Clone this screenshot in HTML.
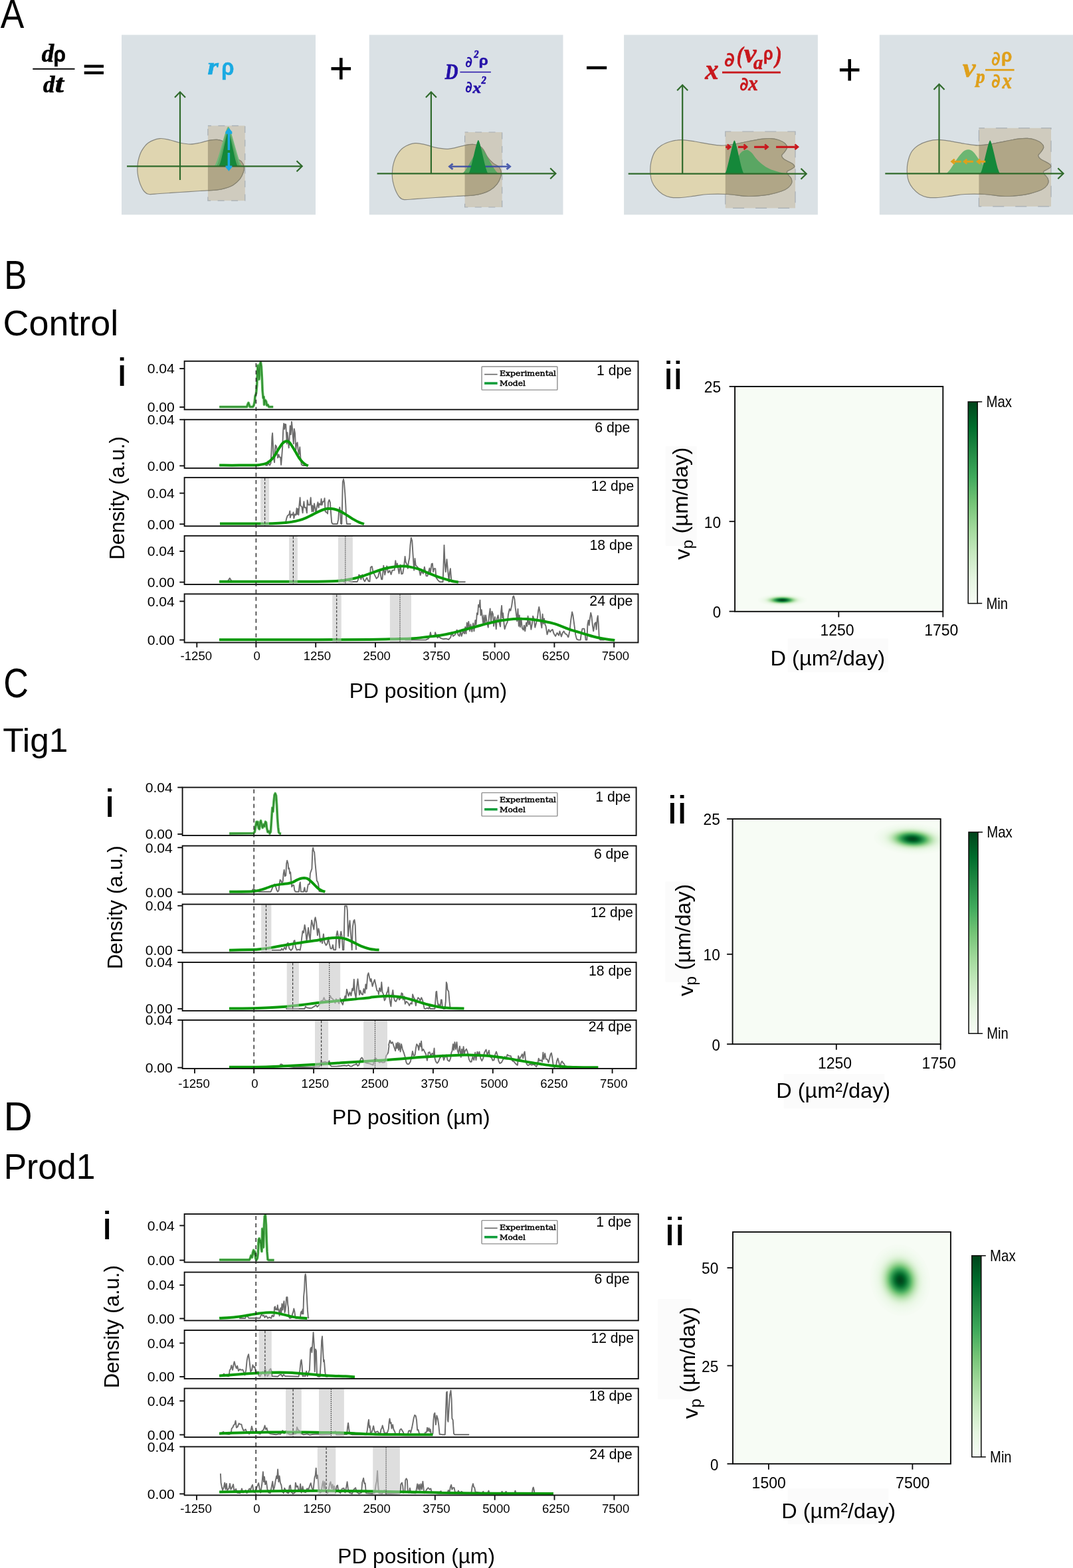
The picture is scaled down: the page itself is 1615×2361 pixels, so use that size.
<!DOCTYPE html>
<html lang="en"><head><meta charset="utf-8"><title>Figure</title>
<style>
html,body{margin:0;padding:0;background:#fff}
body{width:1615px;height:2361px;overflow:hidden}
svg{display:block}
svg{font-family:"Liberation Sans","DejaVu Sans",sans-serif;fill:#000}
.lg{font-family:"DejaVu Serif","Liberation Serif",serif}
</style></head><body>
<svg width="1615" height="2361" viewBox="0 0 1615 2361">
<text transform="translate(0.73 42.49) scale(0.8660 1)" font-family="'Liberation Sans','DejaVu Sans',sans-serif" font-weight="normal" font-style="normal" font-size="61.58" style="fill:#000">A</text>
<text transform="translate(62.65 93.03) scale(0.9926 1)" font-family="'Liberation Serif','DejaVu Serif',serif" font-weight="bold" font-style="italic" font-size="37.07" style="fill:#000" stroke="#000" stroke-width="0.7">d</text>
<text transform="translate(80.56 93.13) scale(0.9153 1)" font-family="'Liberation Sans','DejaVu Sans',sans-serif" font-weight="bold" font-style="normal" font-size="32.70" style="fill:#000" stroke="#000" stroke-width="0.5">ρ</text>
<text transform="translate(65.03 139.08) scale(0.9661 1)" font-family="'Liberation Serif','DejaVu Serif',serif" font-weight="bold" font-style="italic" font-size="36.13" style="fill:#000" stroke="#000" stroke-width="0.7">d</text>
<text transform="translate(82.83 139.07) scale(1.2778 1)" font-family="'Liberation Serif','DejaVu Serif',serif" font-weight="bold" font-style="italic" font-size="36.92" style="fill:#000" stroke="#000" stroke-width="0.7">t</text>
<rect x="49.3" y="102.85" width="63.2" height="1.9" fill="#000"/>
<rect x="126.7" y="97.6" width="29.3" height="4.3" fill="#000"/><rect x="126.7" y="107.5" width="29.3" height="4.3" fill="#000"/>
<rect x="498.5" y="101.1" width="29.6" height="4.6" fill="#000"/>
<rect x="511" y="87.2" width="4.6" height="32.4" fill="#000"/>
<rect x="883" y="99.8" width="30.2" height="4.5" fill="#000"/>
<rect x="1263.9" y="103" width="29.6" height="4.6" fill="#000"/>
<rect x="1276.4" y="89.1" width="4.6" height="32.4" fill="#000"/>
<rect x="183" y="52.5" width="292" height="270.8" fill="#dae1e5"/>
<clipPath id="c1"><rect x="312.9" y="189.3" width="55.9" height="112.9"/></clipPath>
<rect x="312.9" y="189.3" width="55.9" height="112.9" fill="#cfcbbe" stroke="#a7aeb4" stroke-width="1.2" stroke-dasharray="10 10.5" stroke-dashoffset="5"/>
<path d="M206.8 255.3C206.9 251.3 207.1 245.9 208.2 241.2C209.3 236.5 210.7 231.5 213.2 227.1C215.8 222.8 218.8 218.1 223.3 215C227.8 212 234.9 209.3 240.4 208.6C245.9 207.9 251.5 209.9 256.5 211C261.5 212.1 265.6 214 270.6 215C275.6 216 281.7 217.1 286.7 217.1C291.7 217.1 296.1 216 300.8 215C305.5 214.1 310.5 212.2 314.9 211.4C319.2 210.6 323.6 210.2 326.9 210.4C330.3 210.6 332.7 211.3 335 212.6C337.3 213.9 339 215.3 341 218.1C343 220.8 344.7 225.8 347.1 229.1C349.4 232.5 352.4 235.8 355.1 238.2C357.8 240.5 361.2 241 363.2 243.2C365.2 245.4 366.7 248.6 367.2 251.3C367.7 253.9 367.2 256.3 366.2 259.3C365.2 262.3 363.7 266.2 361.2 269.4C358.6 272.5 354.8 276.1 351.1 278.4C347.4 280.8 343 282.2 339 283.4C335 284.7 333.3 285.2 326.9 285.9C320.6 286.5 310.2 286.9 300.8 287.5C291.4 288.1 280.7 288.8 270.6 289.5C260.5 290.2 248.1 291 240.4 291.5C232.7 292 228.2 293 224.3 292.5C220.5 292 219.4 291 217.3 288.5C215.1 286 212.8 281.3 211.2 277.4C209.7 273.6 208.5 269 207.8 265.3C207.1 261.6 206.7 259.3 206.8 255.3Z" fill="#dfd5b0" stroke="#87877f" stroke-width="1.2"/>
<path d="M206.8 255.3C206.9 251.3 207.1 245.9 208.2 241.2C209.3 236.5 210.7 231.5 213.2 227.1C215.8 222.8 218.8 218.1 223.3 215C227.8 212 234.9 209.3 240.4 208.6C245.9 207.9 251.5 209.9 256.5 211C261.5 212.1 265.6 214 270.6 215C275.6 216 281.7 217.1 286.7 217.1C291.7 217.1 296.1 216 300.8 215C305.5 214.1 310.5 212.2 314.9 211.4C319.2 210.6 323.6 210.2 326.9 210.4C330.3 210.6 332.7 211.3 335 212.6C337.3 213.9 339 215.3 341 218.1C343 220.8 344.7 225.8 347.1 229.1C349.4 232.5 352.4 235.8 355.1 238.2C357.8 240.5 361.2 241 363.2 243.2C365.2 245.4 366.7 248.6 367.2 251.3C367.7 253.9 367.2 256.3 366.2 259.3C365.2 262.3 363.7 266.2 361.2 269.4C358.6 272.5 354.8 276.1 351.1 278.4C347.4 280.8 343 282.2 339 283.4C335 284.7 333.3 285.2 326.9 285.9C320.6 286.5 310.2 286.9 300.8 287.5C291.4 288.1 280.7 288.8 270.6 289.5C260.5 290.2 248.1 291 240.4 291.5C232.7 292 228.2 293 224.3 292.5C220.5 292 219.4 291 217.3 288.5C215.1 286 212.8 281.3 211.2 277.4C209.7 273.6 208.5 269 207.8 265.3C207.1 261.6 206.7 259.3 206.8 255.3Z" fill="#b0a687" stroke="#878370" stroke-width="1.2" clip-path="url(#c1)"/>
<path d="M322 250.3C327.4 250.3 339.3 190.8 343.6 190.8C347.9 190.8 359.8 250.3 365.2 250.3Z" fill="#6fb878"/>
<path d="M325.1 250.3C329.7 250.3 339.9 194.5 343.6 194.5C347.3 194.5 357.5 250.3 362.1 250.3Z" fill="#5aa663"/>
<path d="M329 250.3C332.7 250.3 340.7 198.3 343.6 198.3C346.5 198.3 354.6 250.3 358.2 250.3Z" fill="#15883a"/>
<g fill="none" stroke="#2f6a2b" stroke-width="2.2" stroke-linecap="butt" stroke-linejoin="miter">
<path d="M271 271V138.6"/>
<path d="M263 146.8L271 138.6L279 146.8"/>
<path d="M191 250.3H454.7"/>
<path d="M446.5 242.3L454.7 250.3L446.5 258.3"/>
</g>
<g fill="#1aaae2" stroke="none"><rect x="342.65" y="199" width="3.5" height="27"/><rect x="342.65" y="230" width="3.5" height="22"/><path d="M344.4 192.6L349.3 198.6V201.8H339.5V198.6Z"/><path d="M344.4 257.7L349.3 251.7V249.6H339.5V251.7Z"/></g>
<text transform="translate(312.42 112.43) scale(1.1501 1)" font-family="'Liberation Serif','DejaVu Serif',serif" font-weight="bold" font-style="italic" font-size="36.39" style="fill:#1aaae2" stroke="#1aaae2" stroke-width="0.7">r</text>
<text transform="translate(333.13 113.16) scale(0.8876 1)" font-family="'Liberation Sans','DejaVu Sans',sans-serif" font-weight="bold" font-style="normal" font-size="34.88" style="fill:#1aaae2" stroke="#1aaae2" stroke-width="0.5">ρ</text>
<rect x="555.7" y="52.5" width="291.8" height="270.8" fill="#dae1e5"/>
<clipPath id="c2"><rect x="699.6" y="199" width="56.1" height="113"/></clipPath>
<rect x="699.6" y="199" width="56.1" height="113" fill="#cfcbbe" stroke="#a7aeb4" stroke-width="1.2" stroke-dasharray="10 10.5" stroke-dashoffset="5"/>
<path d="M590.3 262.9C590.4 258.9 590.6 253.4 591.7 248.7C592.8 243.9 594.3 238.8 596.9 234.4C599.5 230 602.5 225.3 607.2 222.2C611.8 219.1 619 216.4 624.7 215.7C630.3 215 636 217.1 641.1 218.1C646.3 219.2 650.4 221.2 655.5 222.2C660.7 223.2 666.8 224.3 672 224.3C677.1 224.3 681.6 223.2 686.4 222.2C691.2 221.3 696.3 219.3 700.8 218.6C705.3 217.8 709.7 217.3 713.1 217.5C716.6 217.7 719 218.5 721.4 219.8C723.8 221.1 725.5 222.5 727.5 225.3C729.6 228.1 731.3 233.1 733.7 236.5C736.1 239.9 739.2 243.3 742 245.6C744.7 248 748.1 248.5 750.2 250.7C752.2 252.9 753.8 256.1 754.3 258.9C754.8 261.6 754.3 264 753.3 267C752.2 270.1 750.7 274 748.1 277.2C745.6 280.4 741.6 284 737.8 286.3C734.1 288.7 729.6 290.2 725.5 291.4C721.4 292.7 719.7 293.2 713.1 293.9C706.6 294.6 696 294.9 686.4 295.5C676.8 296.1 665.8 296.9 655.5 297.5C645.2 298.2 632.6 299.1 624.7 299.6C616.8 300.1 612.1 301.1 608.2 300.6C604.3 300.1 603.2 299.1 601 296.5C598.8 294 596.4 289.2 594.8 285.3C593.2 281.4 592.1 276.8 591.3 273.1C590.6 269.4 590.2 267 590.3 262.9Z" fill="#dfd5b0" stroke="#87877f" stroke-width="1.2"/>
<path d="M590.3 262.9C590.4 258.9 590.6 253.4 591.7 248.7C592.8 243.9 594.3 238.8 596.9 234.4C599.5 230 602.5 225.3 607.2 222.2C611.8 219.1 619 216.4 624.7 215.7C630.3 215 636 217.1 641.1 218.1C646.3 219.2 650.4 221.2 655.5 222.2C660.7 223.2 666.8 224.3 672 224.3C677.1 224.3 681.6 223.2 686.4 222.2C691.2 221.3 696.3 219.3 700.8 218.6C705.3 217.8 709.7 217.3 713.1 217.5C716.6 217.7 719 218.5 721.4 219.8C723.8 221.1 725.5 222.5 727.5 225.3C729.6 228.1 731.3 233.1 733.7 236.5C736.1 239.9 739.2 243.3 742 245.6C744.7 248 748.1 248.5 750.2 250.7C752.2 252.9 753.8 256.1 754.3 258.9C754.8 261.6 754.3 264 753.3 267C752.2 270.1 750.7 274 748.1 277.2C745.6 280.4 741.6 284 737.8 286.3C734.1 288.7 729.6 290.2 725.5 291.4C721.4 292.7 719.7 293.2 713.1 293.9C706.6 294.6 696 294.9 686.4 295.5C676.8 296.1 665.8 296.9 655.5 297.5C645.2 298.2 632.6 299.1 624.7 299.6C616.8 300.1 612.1 301.1 608.2 300.6C604.3 300.1 603.2 299.1 601 296.5C598.8 294 596.4 289.2 594.8 285.3C593.2 281.4 592.1 276.8 591.3 273.1C590.6 269.4 590.2 267 590.3 262.9Z" fill="#b0a687" stroke="#878370" stroke-width="1.2" clip-path="url(#c2)"/>
<path d="M694.7 261.3C701.8 261.3 717.3 222 723 222C728.7 222 744.2 261.3 751.3 261.3Z" fill="#5aa663"/>
<g fill="#3448a6" stroke="none" opacity="0.85">
<rect x="677.9" y="249.5" width="88.2" height="2.5"/>
<path d="M769.8 250.8L763.5 245.6L761.5 247.8L765.7 250.8L761.5 253.7L763.5 255.9Z"/>
<path d="M674.3 250.8L680.6 245.6L682.5 247.8L678.4 250.8L682.5 253.7L680.6 255.9Z"/>
</g>
<path d="M704.8 261.3C708.6 261.3 716.9 211.1 719.9 211.1C722.9 211.1 731.2 261.3 735 261.3Z" fill="#15883a"/>
<g fill="none" stroke="#2f6a2b" stroke-width="2.2" stroke-linecap="butt" stroke-linejoin="miter">
<path d="M648.9 261.3V138.6"/>
<path d="M640.9 146.8L648.9 138.6L656.9 146.8"/>
<path d="M567.6 261.3H836.4"/>
<path d="M828.2 253.3L836.4 261.3L828.2 269.3"/>
</g>
<text transform="translate(669.85 119.25) scale(0.7936 1)" font-family="'Liberation Serif','DejaVu Serif',serif" font-weight="bold" font-style="italic" font-size="34.57" style="fill:#2410a8" stroke="#2410a8" stroke-width="0.7">D</text>
<text transform="translate(700.27 101.17) scale(0.8622 1)" font-family="'DejaVu Sans','Liberation Sans',sans-serif" font-weight="bold" font-style="italic" font-size="22.56" style="fill:#2410a8">∂</text>
<text transform="translate(713.26 87.36) scale(0.8505 1)" font-family="'Liberation Serif','DejaVu Serif',serif" font-weight="bold" font-style="italic" font-size="17.15" style="fill:#2410a8" stroke="#2410a8" stroke-width="0.7">2</text>
<text transform="translate(720.71 98.36) scale(1.1632 1)" font-family="'Liberation Sans','DejaVu Sans',sans-serif" font-weight="bold" font-style="normal" font-size="19.50" style="fill:#2410a8" stroke="#2410a8" stroke-width="0.5">ρ</text>
<text transform="translate(700.27 139.36) scale(0.8130 1)" font-family="'DejaVu Sans','Liberation Sans',sans-serif" font-weight="bold" font-style="italic" font-size="23.93" style="fill:#2410a8">∂</text>
<text transform="translate(711.48 139.72) scale(1.1209 1)" font-family="'Liberation Serif','DejaVu Serif',serif" font-weight="bold" font-style="italic" font-size="22.56" style="fill:#2410a8" stroke="#2410a8" stroke-width="0.7">x</text>
<text transform="translate(724.58 125.57) scale(0.8875 1)" font-family="'Liberation Serif','DejaVu Serif',serif" font-weight="bold" font-style="italic" font-size="16.44" style="fill:#2410a8" stroke="#2410a8" stroke-width="0.7">2</text>
<rect x="692.4" y="107.8" width="46.5" height="1.5" fill="#2410a8"/>
<rect x="939.1" y="52.5" width="291.8" height="270.8" fill="#dae1e5"/>
<clipPath id="c3"><rect x="1091.8" y="198" width="105.2" height="115.4"/></clipPath>
<rect x="1091.8" y="198" width="105.2" height="115.4" fill="#cfcbbe" stroke="#a7aeb4" stroke-width="1.2" stroke-dasharray="17 17" stroke-dashoffset="8.5"/>
<path d="M978.9 261.3C978.6 256.6 978.6 250.6 979.7 245.2C980.8 239.8 982.7 233.5 985.3 229.1C988 224.8 991.4 221.7 995.4 219.1C999.4 216.4 1004.5 214.4 1009.5 213C1014.5 211.6 1019.5 210.6 1025.6 210.6C1031.6 210.6 1039 212 1045.7 213C1052.4 214 1059.1 215.6 1065.8 216.6C1072.5 217.7 1079.2 219 1085.9 219.1C1092.6 219.1 1099.4 218.1 1106.1 217C1112.8 216 1119.5 214.3 1126.2 213C1132.9 211.8 1140.6 210.1 1146.3 209.4C1152 208.7 1156 208.3 1160.4 208.6C1164.7 208.9 1168.9 209.8 1172.5 211C1176 212.3 1179.5 214.2 1181.5 216C1183.5 217.9 1184.7 219.9 1184.5 222.1C1184.4 224.3 1181.9 227.1 1180.5 229.1C1179.2 231.1 1176.7 232.5 1176.5 234.1C1176.3 235.8 1177.8 237.7 1179.5 239.2C1181.2 240.7 1184.2 241.9 1186.5 243.2C1188.9 244.5 1192.1 245.9 1193.6 247.2C1195.1 248.6 1196.1 250 1195.6 251.2C1195.1 252.5 1192.4 253.7 1190.6 254.9C1188.7 256 1185.4 257 1184.5 258.3C1183.7 259.5 1184.5 260.6 1185.5 262.3C1186.5 264 1189.6 266.2 1190.6 268.3C1191.6 270.5 1192.2 273 1191.6 275.4C1190.9 277.7 1189.1 280.3 1186.5 282.4C1184 284.5 1181.5 286.1 1176.5 287.8C1171.5 289.6 1164.7 291.8 1156.4 293.1C1148 294.3 1136.2 295.6 1126.2 295.5C1116.1 295.4 1106.1 293 1096 292.5C1085.9 292 1074.2 292 1065.8 292.5C1057.4 292.9 1052.4 294.2 1045.7 295.1C1039 295.9 1031.6 297.2 1025.6 297.5C1019.5 297.8 1014.2 297.9 1009.5 297.1C1004.8 296.3 1001.1 294.8 997.4 292.5C993.7 290.2 990 286.6 987.4 283.4C984.7 280.2 982.7 277.1 981.3 273.4C979.9 269.7 979.2 266 978.9 261.3Z" fill="#dfd5b0" stroke="#87877f" stroke-width="1.2"/>
<path d="M978.9 261.3C978.6 256.6 978.6 250.6 979.7 245.2C980.8 239.8 982.7 233.5 985.3 229.1C988 224.8 991.4 221.7 995.4 219.1C999.4 216.4 1004.5 214.4 1009.5 213C1014.5 211.6 1019.5 210.6 1025.6 210.6C1031.6 210.6 1039 212 1045.7 213C1052.4 214 1059.1 215.6 1065.8 216.6C1072.5 217.7 1079.2 219 1085.9 219.1C1092.6 219.1 1099.4 218.1 1106.1 217C1112.8 216 1119.5 214.3 1126.2 213C1132.9 211.8 1140.6 210.1 1146.3 209.4C1152 208.7 1156 208.3 1160.4 208.6C1164.7 208.9 1168.9 209.8 1172.5 211C1176 212.3 1179.5 214.2 1181.5 216C1183.5 217.9 1184.7 219.9 1184.5 222.1C1184.4 224.3 1181.9 227.1 1180.5 229.1C1179.2 231.1 1176.7 232.5 1176.5 234.1C1176.3 235.8 1177.8 237.7 1179.5 239.2C1181.2 240.7 1184.2 241.9 1186.5 243.2C1188.9 244.5 1192.1 245.9 1193.6 247.2C1195.1 248.6 1196.1 250 1195.6 251.2C1195.1 252.5 1192.4 253.7 1190.6 254.9C1188.7 256 1185.4 257 1184.5 258.3C1183.7 259.5 1184.5 260.6 1185.5 262.3C1186.5 264 1189.6 266.2 1190.6 268.3C1191.6 270.5 1192.2 273 1191.6 275.4C1190.9 277.7 1189.1 280.3 1186.5 282.4C1184 284.5 1181.5 286.1 1176.5 287.8C1171.5 289.6 1164.7 291.8 1156.4 293.1C1148 294.3 1136.2 295.6 1126.2 295.5C1116.1 295.4 1106.1 293 1096 292.5C1085.9 292 1074.2 292 1065.8 292.5C1057.4 292.9 1052.4 294.2 1045.7 295.1C1039 295.9 1031.6 297.2 1025.6 297.5C1019.5 297.8 1014.2 297.9 1009.5 297.1C1004.8 296.3 1001.1 294.8 997.4 292.5C993.7 290.2 990 286.6 987.4 283.4C984.7 280.2 982.7 277.1 981.3 273.4C979.9 269.7 979.2 266 978.9 261.3Z" fill="#b0a687" stroke="#878370" stroke-width="1.2" clip-path="url(#c3)"/>
<path d="M1106 261.7C1106.5 259.1 1107.9 250.7 1109 246C1110.1 241.3 1111 236.9 1112.5 233.8C1114 230.7 1116 228.9 1118 227.6C1120 226.3 1122.5 225.4 1124.7 225.8C1126.9 226.2 1129.1 227.9 1131.3 230C1133.5 232.1 1135.5 235.8 1137.9 238.5C1140.3 241.2 1142.7 243.7 1145.5 246C1148.3 248.3 1151.8 250.8 1154.9 252.6C1158 254.4 1161.2 255.5 1164.3 256.6C1167.4 257.7 1170.2 258.5 1173.8 259.4C1177.4 260.2 1184 261.3 1186 261.7 L1186 261.7L1106 261.7Z" fill="#5aa663"/>
<path d="M1090.7 261.7C1094.4 261.7 1102.5 211.6 1105.4 211.6C1108.3 211.6 1116.4 261.7 1120.1 261.7Z" fill="#15883a"/>
<g fill="none" stroke="#2f6a2b" stroke-width="2.2" stroke-linecap="butt" stroke-linejoin="miter">
<path d="M1027.2 261.7V128.1"/>
<path d="M1019.2 136.3L1027.2 128.1L1035.2 136.3"/>
<path d="M945.7 261.7H1213.7"/>
<path d="M1205.5 253.7L1213.7 261.7L1205.5 269.7"/>
</g>
<g fill="#c8181d" stroke="none">
<rect x="1092.2" y="219.8" width="5.8" height="3.1"/>
<path d="M1101.3 221.3L1095.6 216.6L1093.8 218.6L1097.6 221.3L1093.8 224L1095.6 226Z"/>
</g>
<g fill="#c8181d" stroke="none">
<rect x="1111" y="219.8" width="11.8" height="3.1"/>
<path d="M1126.1 221.3L1120.4 216.6L1118.6 218.6L1122.4 221.3L1118.6 224L1120.4 226Z"/>
</g>
<g fill="#c8181d" stroke="none">
<rect x="1135.1" y="219.8" width="19.3" height="3.1"/>
<path d="M1157.7 221.3L1152 216.6L1150.2 218.6L1154 221.3L1150.2 224L1152 226Z"/>
</g>
<g fill="#c8181d" stroke="none">
<rect x="1168.1" y="219.8" width="31.6" height="3.1"/>
<path d="M1203 221.3L1197.3 216.6L1195.5 218.6L1199.3 221.3L1195.5 224L1197.3 226Z"/>
</g>
<text transform="translate(1061.16 118.96) scale(0.9264 1)" font-family="'Liberation Serif','DejaVu Serif',serif" font-weight="bold" font-style="italic" font-size="44.09" style="fill:#c8181d" stroke="#c8181d" stroke-width="0.7">x</text>
<text transform="translate(1090.07 99.64) scale(0.9700 1)" font-family="'DejaVu Sans','Liberation Sans',sans-serif" font-weight="bold" font-style="italic" font-size="30.08" style="fill:#c8181d">∂</text>
<text transform="translate(1108.83 94.86) scale(0.8056 1)" font-family="'Liberation Serif','DejaVu Serif',serif" font-weight="bold" font-style="italic" font-size="36.16" style="fill:#c8181d" stroke="#c8181d" stroke-width="0.7">(</text>
<text transform="translate(1119.76 93.54) scale(1.0059 1)" font-family="'Liberation Serif','DejaVu Serif',serif" font-weight="bold" font-style="italic" font-size="42.15" style="fill:#c8181d" stroke="#c8181d" stroke-width="0.7">v</text>
<text transform="translate(1134.06 103.56) scale(0.9324 1)" font-family="'Liberation Serif','DejaVu Serif',serif" font-weight="bold" font-style="italic" font-size="30.46" style="fill:#c8181d" stroke="#c8181d" stroke-width="0.7">a</text>
<text transform="translate(1148.96 89.70) scale(0.8721 1)" font-family="'Liberation Sans','DejaVu Sans',sans-serif" font-weight="bold" font-style="normal" font-size="27.04" style="fill:#c8181d" stroke="#c8181d" stroke-width="0.5">ρ</text>
<text transform="translate(1166.78 94.86) scale(0.8318 1)" font-family="'Liberation Serif','DejaVu Serif',serif" font-weight="bold" font-style="italic" font-size="36.16" style="fill:#c8181d" stroke="#c8181d" stroke-width="0.7">)</text>
<text transform="translate(1113.33 135.52) scale(0.8675 1)" font-family="'DejaVu Sans','Liberation Sans',sans-serif" font-weight="bold" font-style="italic" font-size="28.03" style="fill:#c8181d">∂</text>
<text transform="translate(1126.14 135.94) scale(0.9179 1)" font-family="'Liberation Serif','DejaVu Serif',serif" font-weight="bold" font-style="italic" font-size="31.79" style="fill:#c8181d" stroke="#c8181d" stroke-width="0.7">x</text>
<rect x="1087" y="107.6" width="87.9" height="2.9" fill="#c8181d"/>
<rect x="1323.8" y="52.5" width="291.2" height="270.8" fill="#dae1e5"/>
<clipPath id="c4"><rect x="1473.4" y="192.8" width="108.6" height="118.1"/></clipPath>
<rect x="1473.4" y="192.8" width="108.6" height="118.1" fill="#cfcbbe" stroke="#a7aeb4" stroke-width="1.2" stroke-dasharray="17 17" stroke-dashoffset="8.5"/>
<path d="M1365.4 261.2C1365.1 256.5 1365.1 250.5 1366.2 245.1C1367.3 239.7 1369.2 233.3 1371.8 229C1374.4 224.6 1377.9 221.6 1381.9 218.9C1385.9 216.2 1390.9 214.2 1395.9 212.8C1400.9 211.4 1406 210.4 1412 210.4C1418 210.4 1425.4 211.8 1432.1 212.8C1438.8 213.8 1445.5 215.5 1452.2 216.5C1458.9 217.5 1465.6 218.8 1472.2 218.9C1478.9 218.9 1485.6 217.9 1492.3 216.9C1499 215.9 1505.7 214.1 1512.4 212.8C1519.1 211.6 1526.8 209.9 1532.5 209.2C1538.2 208.5 1542.2 208.1 1546.6 208.4C1550.9 208.7 1555.1 209.6 1558.6 210.8C1562.1 212.1 1565.6 214 1567.6 215.9C1569.6 217.7 1570.8 219.7 1570.7 221.9C1570.5 224.1 1568 226.9 1566.6 229C1565.3 231 1562.8 232.3 1562.6 234C1562.5 235.7 1564 237.5 1565.6 239C1567.3 240.6 1570.3 241.7 1572.7 243.1C1575 244.4 1578.2 245.8 1579.7 247.1C1581.2 248.4 1582.2 249.9 1581.7 251.1C1581.2 252.4 1578.5 253.6 1576.7 254.8C1574.8 255.9 1571.5 256.9 1570.7 258.2C1569.8 259.4 1570.7 260.5 1571.7 262.2C1572.7 263.9 1575.7 266.1 1576.7 268.3C1577.7 270.5 1578.4 273 1577.7 275.3C1577 277.7 1575.2 280.3 1572.7 282.4C1570.2 284.5 1567.6 286 1562.6 287.8C1557.6 289.6 1550.9 291.8 1542.5 293.1C1534.2 294.3 1522.5 295.6 1512.4 295.5C1502.4 295.4 1492.3 293 1482.3 292.5C1472.2 292 1460.5 292 1452.2 292.5C1443.8 292.9 1438.8 294.2 1432.1 295.1C1425.4 295.9 1418 297.2 1412 297.5C1406 297.8 1400.6 297.9 1395.9 297.1C1391.2 296.3 1387.6 294.7 1383.9 292.5C1380.2 290.2 1376.5 286.6 1373.8 283.4C1371.2 280.2 1369.2 277 1367.8 273.3C1366.4 269.6 1365.7 265.9 1365.4 261.2Z" fill="#dfd5b0" stroke="#87877f" stroke-width="1.2"/>
<path d="M1365.4 261.2C1365.1 256.5 1365.1 250.5 1366.2 245.1C1367.3 239.7 1369.2 233.3 1371.8 229C1374.4 224.6 1377.9 221.6 1381.9 218.9C1385.9 216.2 1390.9 214.2 1395.9 212.8C1400.9 211.4 1406 210.4 1412 210.4C1418 210.4 1425.4 211.8 1432.1 212.8C1438.8 213.8 1445.5 215.5 1452.2 216.5C1458.9 217.5 1465.6 218.8 1472.2 218.9C1478.9 218.9 1485.6 217.9 1492.3 216.9C1499 215.9 1505.7 214.1 1512.4 212.8C1519.1 211.6 1526.8 209.9 1532.5 209.2C1538.2 208.5 1542.2 208.1 1546.6 208.4C1550.9 208.7 1555.1 209.6 1558.6 210.8C1562.1 212.1 1565.6 214 1567.6 215.9C1569.6 217.7 1570.8 219.7 1570.7 221.9C1570.5 224.1 1568 226.9 1566.6 229C1565.3 231 1562.8 232.3 1562.6 234C1562.5 235.7 1564 237.5 1565.6 239C1567.3 240.6 1570.3 241.7 1572.7 243.1C1575 244.4 1578.2 245.8 1579.7 247.1C1581.2 248.4 1582.2 249.9 1581.7 251.1C1581.2 252.4 1578.5 253.6 1576.7 254.8C1574.8 255.9 1571.5 256.9 1570.7 258.2C1569.8 259.4 1570.7 260.5 1571.7 262.2C1572.7 263.9 1575.7 266.1 1576.7 268.3C1577.7 270.5 1578.4 273 1577.7 275.3C1577 277.7 1575.2 280.3 1572.7 282.4C1570.2 284.5 1567.6 286 1562.6 287.8C1557.6 289.6 1550.9 291.8 1542.5 293.1C1534.2 294.3 1522.5 295.6 1512.4 295.5C1502.4 295.4 1492.3 293 1482.3 292.5C1472.2 292 1460.5 292 1452.2 292.5C1443.8 292.9 1438.8 294.2 1432.1 295.1C1425.4 295.9 1418 297.2 1412 297.5C1406 297.8 1400.6 297.9 1395.9 297.1C1391.2 296.3 1387.6 294.7 1383.9 292.5C1380.2 290.2 1376.5 286.6 1373.8 283.4C1371.2 280.2 1369.2 277 1367.8 273.3C1366.4 269.6 1365.7 265.9 1365.4 261.2Z" fill="#b0a687" stroke="#878370" stroke-width="1.2" clip-path="url(#c4)"/>
<path d="M1424.5 261.3C1425.6 260.1 1428.4 257.6 1431 254C1433.6 250.4 1437.2 244 1440 240C1442.8 236 1445.8 232.3 1448 230C1450.2 227.7 1451.4 227.1 1453 226.3C1454.6 225.5 1456 225.3 1457.5 225.3C1459 225.3 1460.4 225.6 1462 226.5C1463.6 227.4 1465 228.6 1467 231C1469 233.4 1471.8 238 1474 241C1476.2 244 1477.8 246.7 1480 249C1482.2 251.3 1484.3 253.4 1487 255C1489.7 256.6 1492.8 257.6 1496 258.5C1499.2 259.4 1502.3 259.8 1506 260.3C1509.7 260.8 1516 261.1 1518 261.3 L1518 261.3L1424.5 261.3Z" fill="#6cb672"/>
<path d="M1475 261.3C1478.8 261.3 1487.2 211.4 1490.2 211.4C1493.2 211.4 1501.6 261.3 1505.4 261.3Z" fill="#15883a"/>
<g fill="none" stroke="#2f6a2b" stroke-width="2.2" stroke-linecap="butt" stroke-linejoin="miter">
<path d="M1413.5 261.3V126.8"/>
<path d="M1405.5 135L1413.5 126.8L1421.5 135"/>
<path d="M1332.3 261.3H1600.5"/>
<path d="M1592.3 253.3L1600.5 261.3L1592.3 269.3"/>
</g>
<g fill="#dfa01c" stroke="none">
<rect x="1433.6" y="241.8" width="13.1" height="3"/>
<path d="M1430.4 243.3L1435.9 238.8L1437.7 240.7L1434 243.3L1437.7 245.9L1435.9 247.8Z"/>
</g>
<g fill="#dfa01c" stroke="none">
<rect x="1452.2" y="241.8" width="12.7" height="3"/>
<path d="M1449 243.3L1454.5 238.8L1456.2 240.7L1452.6 243.3L1456.2 245.9L1454.5 247.8Z"/>
</g>
<g fill="#dfa01c" stroke="none">
<rect x="1472.2" y="241.8" width="11" height="3"/>
<path d="M1469 243.3L1474.5 238.8L1476.2 240.7L1472.6 243.3L1476.2 245.9L1474.5 247.8Z"/>
</g>
<text transform="translate(1448.80 116.17) scale(1.0316 1)" font-family="'Liberation Serif','DejaVu Serif',serif" font-weight="bold" font-style="italic" font-size="43.16" style="fill:#dfa01c" stroke="#dfa01c" stroke-width="0.7">v</text>
<text transform="translate(1469.07 124.54) scale(0.9145 1)" font-family="'Liberation Serif','DejaVu Serif',serif" font-weight="bold" font-style="italic" font-size="29.61" style="fill:#dfa01c" stroke="#dfa01c" stroke-width="0.7">p</text>
<text transform="translate(1491.88 97.77) scale(0.8602 1)" font-family="'DejaVu Sans','Liberation Sans',sans-serif" font-weight="bold" font-style="italic" font-size="29.40" style="fill:#dfa01c">∂</text>
<text transform="translate(1507.10 92.53) scale(0.9727 1)" font-family="'Liberation Sans','DejaVu Sans',sans-serif" font-weight="bold" font-style="normal" font-size="27.04" style="fill:#dfa01c" stroke="#dfa01c" stroke-width="0.5">ρ</text>
<text transform="translate(1491.88 132.19) scale(0.8407 1)" font-family="'DejaVu Sans','Liberation Sans',sans-serif" font-weight="bold" font-style="italic" font-size="30.08" style="fill:#dfa01c">∂</text>
<text transform="translate(1508.50 132.64) scale(0.8892 1)" font-family="'Liberation Serif','DejaVu Serif',serif" font-weight="bold" font-style="italic" font-size="32.81" style="fill:#dfa01c" stroke="#dfa01c" stroke-width="0.7">x</text>
<rect x="1483" y="103.9" width="43.6" height="2.8" fill="#dfa01c"/>
<clipPath id="pB0"><rect x="277.6" y="543.8" width="682.9" height="72.9"/></clipPath>
<g clip-path="url(#pB0)">
<path d="M330.2 612.6L371.6 612.6L372.6 609.4L374 606.4L375.3 610.4L376.3 612.6L380.5 612.6L382 610.4L383.3 604.4L384 596.4L385.5 592.3L386.7 580.2L387.4 560.1L388.1 550.1L389.1 558.1L389.9 571.2L390.6 560.1L391.4 548L392.4 545.5L393.4 552.1L394.4 570.2L395.1 588.3L396.1 599.4L397.1 597.4L397.6 609.4L399.1 602.4L400.6 604.4L401.6 610.4L403.1 609.4L404.6 612.6L411.2 612.6" fill="none" stroke="#6c6c6c" stroke-width="1.7" stroke-linejoin="round"/>
<path d="M330.2 612.6L371.6 612.6L372.6 609.4L374 606.4L375.3 610.4L376.3 612.6L380.5 612.6L382 610.4L383.3 604.4L384 596.4L385.5 592.3L386.7 580.2L387.4 560.1L388.1 550.1L389.1 558.1L389.9 571.2L390.6 560.1L391.4 548L392.4 545.5L393.4 552.1L394.4 570.2L395.1 588.3L396.1 599.4L397.1 597.4L397.6 609.4L399.1 602.4L400.6 604.4L401.6 610.4L403.1 609.4L404.6 612.6L411.2 612.6" fill="none" stroke="#0a9a0a" stroke-width="3.8" stroke-linejoin="round" stroke-opacity="0.66"/>
</g>
<rect x="277.6" y="543.8" width="682.9" height="72.9" fill="none" stroke="#111" stroke-width="1.9"/>
<path d="M270.3 555H277.6" stroke="#111" stroke-width="1.9"/>
<text x="221.7" y="562.4" font-size="20.8" textLength="41.2" lengthAdjust="spacingAndGlyphs">0.04</text>
<path d="M270.3 613H277.6" stroke="#111" stroke-width="1.9"/>
<text x="221.7" y="620.4" font-size="20.8" textLength="41.2" lengthAdjust="spacingAndGlyphs">0.00</text>
<text transform="translate(898.02 564.50) scale(0.9820 1)" font-family="'Liberation Sans','DejaVu Sans',sans-serif" font-weight="normal" font-style="normal" font-size="21.52" style="fill:#000">1 dpe</text>
<clipPath id="pB1"><rect x="277.6" y="631.8" width="682.9" height="73.1"/></clipPath>
<g clip-path="url(#pB1)">
<path d="M399.5 701L402.5 700.5L403.3 694.4L404.5 698.4L406 700.5L407.6 697.4L408.6 678.3L409.4 658.2L410.1 652.1L410.9 668.2L411.6 688.4L413.1 696.4L413.9 678.3L414.6 670.3L416.1 672.3L417.1 680.3L418.1 689.4L419.6 684.4L420.6 688.4L422.1 688.4L423.1 700L424.1 688.4L425.2 673.3L426.2 648.1L427.2 637.6L428.2 646.1L429.2 638.6L430.2 639.1L431.2 658.2L431.7 668.2L432.5 651.1L433.5 661.2L434.7 674.3L435.7 658.2L436.7 641.1L437.7 654.2L439 635L440.1 646.1L440.8 656.2L441.8 668.2L442.8 645.6L444 652.1L445.3 677.3L446.3 668.2L447.6 666.2L448.8 678.3L449.8 684.4L451.3 673.3L452.3 688.4L453.8 699.5L455.9 701L462.9 701" fill="none" stroke="#6c6c6c" stroke-width="1.9" stroke-linejoin="round"/>
<path d="M330.1 700.6C335.1 700.6 351 700.7 360.2 700.6C369.5 700.6 380 700.6 385.4 700.5C390.8 700.3 389.9 700.1 392.4 699.6C395 699.2 398.2 698.9 400.5 697.9C402.8 697 404.5 695.7 406.5 693.9C408.6 692.1 410.6 690.1 412.6 687.4C414.6 684.6 416.6 680.5 418.6 677.3C420.6 674.1 423 670.3 424.6 668.2C426.3 666.2 427.5 665.7 428.7 665C429.9 664.4 430.7 664.2 431.7 664.2C432.7 664.3 433.5 664.4 434.7 665.4C435.9 666.4 437.1 667.8 438.7 670.3C440.4 672.7 442.8 677 444.8 680.3C446.8 683.7 449 687.7 450.8 690.4C452.7 693.1 454.2 694.8 455.9 696.4C457.5 698.1 459.5 699.4 460.9 700.2C462.2 701.1 463.4 701.1 463.9 701.3" fill="none" stroke="#0a9a0a" stroke-width="4" stroke-linejoin="round"/>
</g>
<rect x="277.6" y="631.8" width="682.9" height="73.1" fill="none" stroke="#111" stroke-width="1.9"/>
<path d="M270.3 631.8H277.6" stroke="#111" stroke-width="1.9"/>
<text x="221.7" y="639.2" font-size="20.8" textLength="41.2" lengthAdjust="spacingAndGlyphs">0.04</text>
<path d="M270.3 701.4H277.6" stroke="#111" stroke-width="1.9"/>
<text x="221.7" y="708.8" font-size="20.8" textLength="41.2" lengthAdjust="spacingAndGlyphs">0.00</text>
<text transform="translate(895.14 651.10) scale(0.9892 1)" font-family="'Liberation Sans','DejaVu Sans',sans-serif" font-weight="normal" font-style="normal" font-size="21.52" style="fill:#000">6 dpe</text>
<clipPath id="pB2"><rect x="277.6" y="719.1" width="682.9" height="73.1"/></clipPath>
<g clip-path="url(#pB2)">
<rect x="392.2" y="719.1" width="12.9" height="73.1" fill="#dedede"/>
<path d="M430.2 785.5L431.3 780.4L432.8 776.4L435.3 774.4L436.3 769.4L436.8 779.4L438.3 774.4L440.3 775.4L441.5 771.4L442.3 780.4L443.8 774.4L445.4 775.4L446.6 765.3L447.4 774.4L448.4 766.3L449.4 775.4L450.4 761.3L451.6 749.2L452.4 761.3L454.4 763.3L455.6 772.4L456.4 763.3L457.4 755.3L458.4 764.3L460.4 764.3L461.9 772.4L462.6 753.2L464 760.3L466.5 760.3L467.7 749.2L468.5 759.3L469.5 770.4L470.5 761.3L471.7 770.4L473 758.3L474.5 766.3L475.5 772.4L476.7 764.3L478.4 756.3L479.6 764.3L480.6 758.3L482.6 760.3L483.6 751.2L484.6 760.3L486.1 755.3L487.6 755.3L488.6 750.2L489.6 770.4L491.6 771.4L493.1 773.4L494.1 756.3L495.5 752.7L496.9 756.3L498.2 774.4L499.2 786.5L500.7 789L507.7 789L509.2 782.4L510.2 768.3L511.3 763.8L512.3 770.4L513 788.5L514.3 789L515 764.3L515.8 726.1L517 721.5L518 727.1L519.3 743.2L520.3 760.3L521.3 782.4L522 789L528.4 789" fill="none" stroke="#6c6c6c" stroke-width="1.9" stroke-linejoin="round"/>
<path d="M331 788.5C340.8 788.5 376.8 788.5 390 788.5C403.2 788.4 403.4 788.5 410.1 788.3C416.8 788 425.2 787.4 430.2 787C435.3 786.5 437 786.2 440.3 785.6C443.7 785.1 447 784.4 450.4 783.4C453.7 782.5 457.1 781.3 460.4 779.9C463.8 778.5 467.1 776.6 470.5 774.9C473.9 773.2 477.6 771.2 480.6 769.9C483.6 768.5 486.1 767.5 488.6 766.8C491.1 766.2 493.3 765.9 495.7 765.8C498 765.8 500.2 766 502.7 766.5C505.2 767.1 507.7 767.7 510.8 769.1C513.8 770.5 517.5 772.8 520.8 774.9C524.2 776.9 527.5 779.5 530.9 781.4C534.2 783.4 538.1 785.4 540.9 786.6C543.8 787.9 546.8 788.6 548 789" fill="none" stroke="#0a9a0a" stroke-width="4" stroke-linejoin="round"/>
<rect x="392.2" y="719.1" width="12.9" height="73.1" fill="#dedede" fill-opacity="0.45"/>
<path d="M398.6 720.1V792.2" stroke="#3a3a3a" stroke-width="1.2" stroke-dasharray="3.6 2.3" fill="none"/>
</g>
<rect x="277.6" y="719.1" width="682.9" height="73.1" fill="none" stroke="#111" stroke-width="1.9"/>
<path d="M270.3 742.6H277.6" stroke="#111" stroke-width="1.9"/>
<text x="221.7" y="750" font-size="20.8" textLength="41.2" lengthAdjust="spacingAndGlyphs">0.04</text>
<path d="M270.3 789.2H277.6" stroke="#111" stroke-width="1.9"/>
<text x="221.7" y="796.6" font-size="20.8" textLength="41.2" lengthAdjust="spacingAndGlyphs">0.00</text>
<text transform="translate(889.72 739.20) scale(0.9800 1)" font-family="'Liberation Sans','DejaVu Sans',sans-serif" font-weight="normal" font-style="normal" font-size="21.52" style="fill:#000">12 dpe</text>
<clipPath id="pB3"><rect x="277.6" y="806.8" width="682.9" height="73.2"/></clipPath>
<g clip-path="url(#pB3)">
<rect x="435.1" y="806.8" width="12.8" height="73.2" fill="#dedede"/>
<rect x="509" y="806.8" width="21.8" height="73.2" fill="#dedede"/>
<path d="M342.6 875.6L345.8 870.5L348.9 875.6L484.8 876L510 875.6L513.8 872.4L517.5 876.2L522.6 873.7L528.9 876L537.7 876L539.2 872.4L540.2 865.5L542.1 866.8L543.3 872.4L545.2 865.5L547.1 872.4L549 875.6L552.1 869.9L554.6 875L556.5 875.6L557.8 854.2L559.9 852.9L561.6 861.1L564.1 866.1L566.6 871.2L569.1 868.7L571.6 858L574.1 872.4L575.4 872.4L577.3 851.7L579.2 865.5L582.3 852.3L584.2 862.4L586.7 859.2L588.6 864.9L590.5 858.6L593.6 858.6L595.3 844.1L596.5 852.3L598 848.5L600.6 863.6L602.5 850.4L604.3 864.3L606.2 863.6L608.1 852.3L609.6 837.9L610.6 846L612.5 849.8L613.8 856.1L615 846L616.3 839.7L617.5 820.9L618.8 809.8L620.3 814.6L621.7 837.2L623.2 858.6L624.5 841L625.7 851.1L628.2 853.6L630.8 857.4L632.6 866.1L634.5 859.9L637 863.6L638.9 853.6L641.5 867.4L643.3 867.4L646.5 855.5L647.7 863.6L649.6 849.2L650.9 848.5L652.1 861.1L653.4 856.1L655.3 856.1L656.5 869.9L659.7 874.3L662.2 876.2L666.6 876.2L667.5 852.3L668.5 820.9L669.5 846L670.8 861.1L672.5 842.2L673.9 857.4L675.8 876.2L676.7 862.4L677.9 856.1L679.2 872.4L680.4 876.2L700.6 876.2" fill="none" stroke="#6c6c6c" stroke-width="1.9" stroke-linejoin="round"/>
<path d="M330.1 875.8C341 875.8 372 875.9 395.5 875.8C419 875.8 452.1 875.9 470.9 875.7C489.8 875.5 498.7 875.4 508.7 874.7C518.6 874 524.2 872.8 530.8 871.4C537.3 870.1 542.8 868.3 547.7 866.8C552.7 865.3 556.1 863.8 560.3 862.4C564.5 860.9 568.7 859.2 572.9 858C577.1 856.7 581.3 855.7 585.5 854.8C589.7 854 594.5 853.3 598 852.9C601.6 852.6 603.7 852.5 606.9 852.6C610 852.7 613.1 852.9 616.9 853.6C620.7 854.3 625.3 855.4 629.5 856.7C633.7 858.1 637.9 860.1 642.1 861.8C646.3 863.4 650.5 865.2 654.6 866.8C658.8 868.4 663 869.9 667.2 871.2C671.4 872.5 676 873.8 679.8 874.7C683.6 875.6 688.2 876.2 689.9 876.5" fill="none" stroke="#0a9a0a" stroke-width="4" stroke-linejoin="round"/>
<rect x="435.1" y="806.8" width="12.8" height="73.2" fill="#dedede" fill-opacity="0.45"/>
<rect x="509" y="806.8" width="21.8" height="73.2" fill="#dedede" fill-opacity="0.45"/>
<path d="M441.4 807.8V880" stroke="#3a3a3a" stroke-width="1.2" stroke-dasharray="3.6 2.3" fill="none"/>
<path d="M519.8 807.8V880" stroke="#3a3a3a" stroke-width="1.2" stroke-dasharray="1.5 1.5" fill="none"/>
</g>
<rect x="277.6" y="806.8" width="682.9" height="73.2" fill="none" stroke="#111" stroke-width="1.9"/>
<path d="M270.3 830H277.6" stroke="#111" stroke-width="1.9"/>
<text x="221.7" y="837.4" font-size="20.8" textLength="41.2" lengthAdjust="spacingAndGlyphs">0.04</text>
<path d="M270.3 876.6H277.6" stroke="#111" stroke-width="1.9"/>
<text x="221.7" y="884" font-size="20.8" textLength="41.2" lengthAdjust="spacingAndGlyphs">0.00</text>
<text transform="translate(887.41 827.60) scale(0.9863 1)" font-family="'Liberation Sans','DejaVu Sans',sans-serif" font-weight="normal" font-style="normal" font-size="21.52" style="fill:#000">18 dpe</text>
<clipPath id="pB4"><rect x="277.6" y="894.4" width="682.9" height="73.1"/></clipPath>
<g clip-path="url(#pB4)">
<rect x="500.4" y="894.4" width="13.3" height="73.1" fill="#dedede"/>
<rect x="586.9" y="894.4" width="32.1" height="73.1" fill="#dedede"/>
<path d="M609.6 963.6L641 963.6L644.8 961.7L646.7 958.5L647.9 952.3L649.2 957.9L651.7 958.5L654.2 957.9L655.1 952.3L656.7 956.7L658.6 960.4L660 958.5L663.8 961.1L667.5 962.3L671.3 961.7L675.1 963L678.2 959.8L680.1 952.3L682 957.9L685.2 955.4L687.7 948.5L689.6 956L691.5 957.9L693 949.8L694.6 957.9L697.1 950.4L699 954.1L700.2 944.1L701.5 954.1L702.8 937.8L704 945.4L705.3 935.9L707.2 950.4L708.4 940.3L710.3 951L712.2 938.4L713.5 950.4L715.4 934L716.6 940.3L717.9 923.3L719.1 925.2L720.1 910.8L721.3 913.9L722.5 903.6L723.5 926.5L724.8 918.3L726 929L727.3 939.7L728.5 926.5L729.8 940.3L731.1 926.5L733 937.8L734.8 944.7L736.1 927.7L737.7 916.4L739 935.3L740.5 920.8L742 924.6L743 942.8L744.9 929L746.8 947.2L748 931.5L749.6 926.5L751.2 936.5L753.1 943.5L754.1 921.5L755.1 912L756.2 930.2L757.1 923.3L758.7 940.3L759.6 947.2L761.9 940.3L763.8 936.5L765 925.2L766.9 917L768.4 919.6L770.1 912.6L772 898.8L773.2 897.5L774.5 902.6L775.7 915.2L777.2 926.5L778.2 935.3L779.5 917L780.8 942.8L781.8 926.5L783 944.1L784.5 931.5L785.8 945.4L787.7 948.5L788.9 941.6L790.2 950.4L792.1 937.8L793.3 942.8L794.6 927.7L796.1 940.3L797.7 935.3L799.4 947.9L800.9 939.1L802.1 927.7L803.6 931.5L805.3 944.7L807.2 937.8L809.1 929L810.3 918.9L811.3 913.9L812.6 921.5L814.1 937.8L815.4 945.4L816.6 924.6L817.9 939.1L819.1 931.5L820.4 940.3L821.6 942.8L823.5 955.4L826 947.9L827.9 951.6L829.8 949.1L831.7 947.9L833.6 954.1L836.1 957.9L838.6 952.9L841.1 956.7L842.4 950.4L844.9 958.5L846.8 952.9L848.7 950.4L850.6 954.1L853.1 955.4L855 959.2L855.5 959.2L857.4 950.4L859.2 934L861.1 921.5L862.4 926.5L864.3 940.3L866.2 955.4L868 962.3L870.6 963.6L873.7 963.6L875 952.9L876.6 946.6L879.4 946.6L880.6 955.4L881.6 963.6L883.4 963.6L884.4 940.3L885.7 934L886.7 941.6L887.9 931.5L889.2 922.7L890.4 927.7L892 942.8L893.2 950.4L895.1 939.1L896.7 937.2L897.6 947.9L898.9 931.5L899.8 927.1L900.8 940.3L901.8 960.4L903.3 963.6L909.6 963.6" fill="none" stroke="#6c6c6c" stroke-width="1.9" stroke-linejoin="round"/>
<path d="M330 963.2C355 963.2 442.4 963.2 480 963.2C517.6 963.2 537.7 963.1 555.5 963C573.3 962.8 576.4 962.6 586.9 962.3C597.4 962.1 608.9 962 618.4 961.5C627.8 960.9 636.2 959.7 643.5 958.9C650.9 958.1 656.5 957.6 662.4 956.7C668.3 955.8 673 954.9 678.9 953.5C684.8 952.2 691.5 950.2 697.7 948.5C704 946.8 710.3 945.1 716.6 943.5C722.9 941.8 729.2 940 735.5 938.4C741.8 936.9 748.1 935.3 754.3 934.3C760.6 933.2 768 932.6 773.2 932.1C778.5 931.7 781.6 931.7 785.8 931.8C790 931.8 793.1 931.9 798.4 932.5C803.6 933.1 810.9 934.1 817.2 935.3C823.5 936.5 829.7 937.7 836.1 939.7C842.5 941.7 850.1 945.3 855.5 947.2C860.8 949.1 863.9 949.8 868 951C872.2 952.3 876.4 953.5 880.6 954.8C884.8 956 889 957.5 893.2 958.5C897.4 959.6 901.6 960.5 905.8 961.3C910 962.1 915.1 962.8 918.4 963.2C921.6 963.7 924.1 963.8 925.3 964" fill="none" stroke="#0a9a0a" stroke-width="4" stroke-linejoin="round"/>
<rect x="500.4" y="894.4" width="13.3" height="73.1" fill="#dedede" fill-opacity="0.45"/>
<rect x="586.9" y="894.4" width="32.1" height="73.1" fill="#dedede" fill-opacity="0.45"/>
<path d="M506.7 895.4V967.5" stroke="#3a3a3a" stroke-width="1.2" stroke-dasharray="3.6 2.3" fill="none"/>
<path d="M602 895.4V967.5" stroke="#3a3a3a" stroke-width="1.2" stroke-dasharray="1.5 1.5" fill="none"/>
</g>
<rect x="277.6" y="894.4" width="682.9" height="73.1" fill="none" stroke="#111" stroke-width="1.9"/>
<path d="M270.3 905.4H277.6" stroke="#111" stroke-width="1.9"/>
<text x="221.7" y="912.8" font-size="20.8" textLength="41.2" lengthAdjust="spacingAndGlyphs">0.04</text>
<path d="M270.3 963.6H277.6" stroke="#111" stroke-width="1.9"/>
<text x="221.7" y="971" font-size="20.8" textLength="41.2" lengthAdjust="spacingAndGlyphs">0.00</text>
<text transform="translate(887.34 912.00) scale(0.9874 1)" font-family="'Liberation Sans','DejaVu Sans',sans-serif" font-weight="normal" font-style="normal" font-size="21.52" style="fill:#000">24 dpe</text>
<path d="M385.4 546.8V967.5" stroke="#222" stroke-width="1.4" stroke-dasharray="6 5" fill="none"/>
<path d="M296.3 967.5V974.8" stroke="#111" stroke-width="1.9"/>
<text x="295.3" y="993.7" font-size="18.6" text-anchor="middle">-1250</text>
<path d="M385.4 967.5V974.8" stroke="#111" stroke-width="1.9"/>
<text x="386.6" y="993.7" font-size="18.6" text-anchor="middle">0</text>
<path d="M475.2 967.5V974.8" stroke="#111" stroke-width="1.9"/>
<text x="477.4" y="993.7" font-size="18.6" text-anchor="middle">1250</text>
<path d="M565 967.5V974.8" stroke="#111" stroke-width="1.9"/>
<text x="567.2" y="993.7" font-size="18.6" text-anchor="middle">2500</text>
<path d="M654.8 967.5V974.8" stroke="#111" stroke-width="1.9"/>
<text x="657" y="993.7" font-size="18.6" text-anchor="middle">3750</text>
<path d="M744.6 967.5V974.8" stroke="#111" stroke-width="1.9"/>
<text x="746.8" y="993.7" font-size="18.6" text-anchor="middle">5000</text>
<path d="M834.4 967.5V974.8" stroke="#111" stroke-width="1.9"/>
<text x="836.6" y="993.7" font-size="18.6" text-anchor="middle">6250</text>
<path d="M924.2 967.5V974.8" stroke="#111" stroke-width="1.9"/>
<text x="926.4" y="993.7" font-size="18.6" text-anchor="middle">7500</text>
<rect x="725.1" y="552" width="113.8" height="35.1" rx="0.8" fill="#fff" stroke="#8e8e8e" stroke-width="1.4"/>
<path d="M729.1 563.7H748.7" stroke="#6c6c6c" stroke-width="1.7"/>
<path d="M729.1 577.1H748.7" stroke="#0f9d3a" stroke-width="3.6"/>
<text class="lg" stroke="#000" stroke-width="0.45" x="751.9" y="566.4" font-size="11" textLength="85.2" lengthAdjust="spacingAndGlyphs">Experimental</text>
<text class="lg" stroke="#000" stroke-width="0.45" x="751.9" y="581.2" font-size="11" textLength="39" lengthAdjust="spacingAndGlyphs">Model</text>
<clipPath id="pC0"><rect x="274.6" y="1185.6" width="683" height="72.4"/></clipPath>
<g clip-path="url(#pC0)">
<path d="M345.2 1255L381.4 1254.7L383.4 1252.4L384.9 1243.4L385.9 1237.3L386.9 1242.4L387.9 1237.3L389.4 1247.4L390.4 1248.4L391.6 1238.3L392.6 1235.8L394 1242.4L395.3 1246.4L396.5 1241.4L398 1244.4L399.5 1237.3L400.5 1238.3L401.7 1247.4L403 1252.9L404.5 1251.4L406 1255L407.4 1252.4L408.1 1242.4L409.1 1227.3L409.9 1216.2L410.9 1222.2L412.1 1206.2L413.1 1197.1L414.3 1194.6L415.6 1198.1L416.6 1212.2L417.6 1232.3L418.6 1245.4L419.6 1253.5L421.1 1255L423.1 1255.3" fill="none" stroke="#6c6c6c" stroke-width="1.7" stroke-linejoin="round"/>
<path d="M345.2 1255L381.4 1254.7L383.4 1252.4L384.9 1243.4L385.9 1237.3L386.9 1242.4L387.9 1237.3L389.4 1247.4L390.4 1248.4L391.6 1238.3L392.6 1235.8L394 1242.4L395.3 1246.4L396.5 1241.4L398 1244.4L399.5 1237.3L400.5 1238.3L401.7 1247.4L403 1252.9L404.5 1251.4L406 1255L407.4 1252.4L408.1 1242.4L409.1 1227.3L409.9 1216.2L410.9 1222.2L412.1 1206.2L413.1 1197.1L414.3 1194.6L415.6 1198.1L416.6 1212.2L417.6 1232.3L418.6 1245.4L419.6 1253.5L421.1 1255L423.1 1255.3" fill="none" stroke="#0a9a0a" stroke-width="3.8" stroke-linejoin="round" stroke-opacity="0.66"/>
</g>
<rect x="274.6" y="1185.6" width="683" height="72.4" fill="none" stroke="#111" stroke-width="1.9"/>
<path d="M267.3 1185.6H274.6" stroke="#111" stroke-width="1.9"/>
<text x="218.7" y="1193" font-size="20.8" textLength="41.2" lengthAdjust="spacingAndGlyphs">0.04</text>
<path d="M267.3 1256H274.6" stroke="#111" stroke-width="1.9"/>
<text x="218.7" y="1263.4" font-size="20.8" textLength="41.2" lengthAdjust="spacingAndGlyphs">0.00</text>
<text transform="translate(896.31 1207.00) scale(0.9859 1)" font-family="'Liberation Sans','DejaVu Sans',sans-serif" font-weight="normal" font-style="normal" font-size="21.52" style="fill:#000">1 dpe</text>
<clipPath id="pC1"><rect x="274.6" y="1273.6" width="683" height="72.8"/></clipPath>
<g clip-path="url(#pC1)">
<path d="M379.4 1342L380.4 1339.4L381.9 1338.4L383.9 1339.9L385.4 1342L390.4 1342.7L407.6 1342.7L408.6 1340.4L410.6 1335.4L412.1 1332.4L413.6 1331.4L415.1 1335.4L416.6 1340.4L418.1 1342.7L419.6 1340.4L420.6 1330.4L421.6 1324.8L423.1 1326.3L424.1 1329.4L425.7 1327.4L426.7 1315.3L427.7 1309.8L428.9 1319.3L430.2 1318.3L431.2 1300.2L432.2 1295.7L433.5 1300.2L434.2 1308.2L435.2 1307.2L436.2 1315.3L437.2 1313.3L438.2 1326.3L439.2 1335.4L440.8 1332.4L442.3 1333.4L443.3 1340.4L444.8 1342.7L449.8 1342.7L450.8 1332.4L451.8 1328.4L452.8 1342.5L456.9 1342.7L458.4 1336.4L459.4 1342.5L461.9 1342.7L462.9 1336.4L463.9 1331.4L465.9 1331.4L466.9 1315.3L467.9 1312.3L469.4 1308.2L470.4 1280.1L471.2 1276.5L472.1 1281.1L473.2 1283.1L474.5 1300.2L475.9 1315.3L476.9 1326.3L478.4 1328.4L479.4 1332.4L480.4 1342L484.4 1342.7" fill="none" stroke="#6c6c6c" stroke-width="1.9" stroke-linejoin="round"/>
<path d="M345.2 1342.7C350.2 1342.6 368.6 1342.7 375.4 1342.5C382.1 1342.2 382.6 1341.9 385.4 1341.5C388.3 1341 389.9 1340.6 392.4 1339.9C395 1339.3 397.8 1338.3 400.5 1337.4C403.2 1336.5 406 1335.2 408.6 1334.4C411.1 1333.6 412.7 1333.1 415.6 1332.6C418.5 1332.1 422.6 1331.6 425.7 1331.2C428.7 1330.8 431.2 1330.7 433.7 1330.2C436.2 1329.7 438.6 1329.2 440.8 1328.4C442.9 1327.5 444.8 1326.1 446.8 1325.1C448.8 1324.2 451 1323.3 452.8 1322.8C454.7 1322.3 456.2 1322.1 457.9 1322.1C459.5 1322.2 461.2 1322.3 462.9 1323.1C464.6 1323.9 466 1325.1 467.9 1326.9C469.8 1328.6 472.3 1331.4 474.3 1333.4C476.4 1335.4 478.5 1337.6 480.4 1338.9C482.2 1340.3 483.9 1341 485.4 1341.7C486.9 1342.3 488.8 1342.5 489.4 1342.7" fill="none" stroke="#0a9a0a" stroke-width="4" stroke-linejoin="round"/>
</g>
<rect x="274.6" y="1273.6" width="683" height="72.8" fill="none" stroke="#111" stroke-width="1.9"/>
<path d="M267.3 1276.2H274.6" stroke="#111" stroke-width="1.9"/>
<text x="218.7" y="1283.6" font-size="20.8" textLength="41.2" lengthAdjust="spacingAndGlyphs">0.04</text>
<path d="M267.3 1343.4H274.6" stroke="#111" stroke-width="1.9"/>
<text x="218.7" y="1350.8" font-size="20.8" textLength="41.2" lengthAdjust="spacingAndGlyphs">0.00</text>
<text transform="translate(893.94 1293.20) scale(0.9834 1)" font-family="'Liberation Sans','DejaVu Sans',sans-serif" font-weight="normal" font-style="normal" font-size="21.52" style="fill:#000">6 dpe</text>
<clipPath id="pC2"><rect x="274.6" y="1361.6" width="683" height="72.8"/></clipPath>
<g clip-path="url(#pC2)">
<rect x="393.2" y="1361.6" width="15.1" height="72.8" fill="#dedede"/>
<path d="M408.9 1430.7L422.8 1430.7L424 1428.4L425.9 1430.7L428.4 1426.5L430.3 1429.7L432.2 1420.9L433.5 1419.6L435.4 1428.4L437.9 1431L440.4 1428.4L442.3 1417.1L443.5 1415.9L444.8 1425.9L446.7 1430.7L449.2 1429.7L451.7 1430.7L453 1423.4L454.2 1412.1L455.5 1402L457 1404.5L458.6 1392.6L459.9 1399.5L461.5 1417.1L463 1405.8L464 1397L465.5 1408.3L466.8 1415.9L468.1 1395.7L469.1 1385.7L470.6 1392L472.4 1399.5L473.7 1384.4L474.7 1381.3L476.2 1389.5L477.9 1408.3L479.4 1398.2L480.6 1403.3L482.1 1418.4L483.8 1413.3L485 1420.3L486.9 1406.4L488.2 1418.4L490.7 1423.4L492.6 1420.9L494.2 1411.5L495.7 1420.9L497.6 1428.4L499.5 1428.4L501 1422.8L502.3 1430.3L505.2 1430.3L506.4 1408.3L507.7 1402L509.3 1410.8L510.8 1427.2L512.1 1408.3L513.3 1402.7L514.8 1410.8L515.9 1430.3L517.4 1430.3L518.4 1383.2L519 1364.3L521.9 1364.3L522.8 1370.6L524 1409.6L525.3 1395.7L526.5 1386.3L528.2 1408.3L529.7 1430.3L530.9 1395.7L532.2 1386.9L533.5 1385L534.7 1393.2L536 1430.3" fill="none" stroke="#6c6c6c" stroke-width="1.9" stroke-linejoin="round"/>
<path d="M345 1430.7C350.8 1430.6 372.1 1430.2 380 1430C387.9 1429.7 387.9 1429.6 392.6 1429.1C397.3 1428.6 403.1 1427.8 408.3 1426.9C413.5 1426.1 418.3 1425 424 1424C429.8 1423 436.6 1421.9 442.9 1420.9C449.2 1419.9 455.5 1419.1 461.8 1418.1C468.1 1417.2 475.4 1416.1 480.6 1415.2C485.9 1414.4 489 1413.6 493.2 1413.1C497.4 1412.6 502.4 1412.2 505.8 1412.1C509.1 1412 510.8 1412 513.3 1412.3C515.8 1412.7 517.9 1413 520.9 1414C523.8 1415 527.2 1416.6 530.9 1418.4C534.7 1420.2 539.3 1423 543.5 1424.7C547.7 1426.4 552.5 1427.8 556.1 1428.7C559.7 1429.6 562.5 1429.7 564.9 1430C567.3 1430.2 569.6 1430.3 570.6 1430.3" fill="none" stroke="#0a9a0a" stroke-width="4" stroke-linejoin="round"/>
<rect x="393.2" y="1361.6" width="15.1" height="72.8" fill="#dedede" fill-opacity="0.45"/>
<path d="M400.5 1362.6V1434.4" stroke="#3a3a3a" stroke-width="1.2" stroke-dasharray="3.6 2.3" fill="none"/>
</g>
<rect x="274.6" y="1361.6" width="683" height="72.8" fill="none" stroke="#111" stroke-width="1.9"/>
<path d="M267.3 1363.8H274.6" stroke="#111" stroke-width="1.9"/>
<text x="218.7" y="1371.2" font-size="20.8" textLength="41.2" lengthAdjust="spacingAndGlyphs">0.04</text>
<path d="M267.3 1431H274.6" stroke="#111" stroke-width="1.9"/>
<text x="218.7" y="1438.4" font-size="20.8" textLength="41.2" lengthAdjust="spacingAndGlyphs">0.00</text>
<text transform="translate(888.93 1381.20) scale(0.9721 1)" font-family="'Liberation Sans','DejaVu Sans',sans-serif" font-weight="normal" font-style="normal" font-size="21.52" style="fill:#000">12 dpe</text>
<clipPath id="pC3"><rect x="274.6" y="1449" width="683" height="73"/></clipPath>
<g clip-path="url(#pC3)">
<rect x="431.8" y="1449" width="18" height="73" fill="#dedede"/>
<rect x="480" y="1449" width="32.1" height="73" fill="#dedede"/>
<path d="M430.3 1519L458.6 1519L459.9 1515.4L461.8 1517.3L465.5 1518L469.3 1517.7L473.1 1515.4L475.6 1513.5L477.5 1516.1L479.4 1514.2L480.6 1512.9L481.9 1509.2L483.8 1506.6L485.7 1507.3L487.6 1502.2L489.4 1506.6L491.9 1506.6L493.8 1507.9L495.7 1505.4L497 1499.1L498.9 1502.9L500.8 1504.1L502.6 1506.6L504.5 1510.4L505.8 1504.1L508.3 1506.6L510.2 1511L511.8 1502.9L513.3 1507.9L515.9 1512.9L517.7 1505.4L519.4 1499.7L520.6 1504.1L521.9 1489.7L523.4 1495.3L524.6 1499.7L526.5 1494.1L528.4 1499.1L530.3 1488.4L531.6 1491.5L532.8 1474.6L534.1 1495.3L535.7 1502.9L537.2 1485.2L538.5 1474.2L539.8 1486.5L541 1497.8L542.3 1491.5L544.1 1496.6L546 1497.8L547.5 1489L549.2 1495.3L550.4 1482.1L551.7 1489L553.3 1468.3L554.6 1465.1L556.1 1472L557.6 1477.7L558.6 1473.9L560.5 1485.2L562.4 1479L563.9 1475.2L565.5 1482.7L567.4 1491.5L569.3 1492.8L569.9 1497.2L571.2 1487.8L573.1 1492.8L574.3 1479L575.6 1494.1L576.9 1496.6L578.7 1506.6L580.2 1504.1L582.1 1495.3L583.4 1492.8L584.6 1486.5L585.5 1499.1L587.2 1509.2L588.4 1515.4L589.7 1500.3L591.3 1490.9L592.6 1501.6L594.1 1506.6L596 1507.9L597.9 1504.1L599.1 1499.7L601 1505.4L602.9 1502.9L604.4 1495.3L606 1496.6L606.7 1505.4L608.5 1500.3L609.8 1511.7L611.7 1507.9L614.2 1510.4L616.1 1514.2L618 1510.4L619.9 1511.7L621.1 1497.2L623 1502.9L624.3 1504.1L625.8 1514.2L627.4 1506.6L629.3 1502.2L631.2 1504.1L632.5 1506.6L634.3 1502.2L636.2 1506.6L637.5 1512.9L638.7 1518.6L640.6 1519L643.1 1517.7L645 1519L646.3 1515.4L647.5 1519L654.5 1519L655.5 1505.4L656.4 1493.4L657.2 1492.8L658.2 1505.4L659.5 1514.2L660.8 1512.3L662.6 1516.7L663.9 1505.4L664.8 1505.4L665.8 1515.4L667 1519L669.6 1519L670.8 1507.9L671.8 1479L672.7 1481.5L673.6 1490.3L675.2 1492.8L676.5 1507.9L677.7 1518.6L679.6 1519" fill="none" stroke="#6c6c6c" stroke-width="1.9" stroke-linejoin="round"/>
<path d="M345 1518.6C350.8 1518.5 370 1518.4 380 1518.2C390 1518 396.8 1517.8 405.2 1517.3C413.5 1516.9 421.9 1516.4 430.3 1515.7C438.7 1515 447.1 1513.9 455.5 1512.9C463.9 1511.9 472.2 1510.7 480.6 1509.8C489 1508.8 497.4 1508.1 505.8 1507.3C514.2 1506.4 522.6 1505.6 530.9 1504.8C539.3 1503.9 551.4 1502.8 556.1 1502.2C560.8 1501.7 555.3 1502 558.9 1501.6C562.5 1501.2 572.5 1500.2 577.7 1500C583 1499.7 586.1 1499.7 590.3 1500C594.5 1500.2 598.7 1500.7 602.9 1501.3C607.1 1502 611.3 1503 615.5 1504.1C619.7 1505.2 623.9 1506.6 628 1507.9C632.2 1509.1 636.4 1510.5 640.6 1511.7C644.8 1512.8 649 1513.9 653.2 1514.8C657.4 1515.7 661.6 1516.4 665.8 1517C670 1517.5 672.9 1517.7 678.4 1518C683.8 1518.2 695.1 1518.5 698.5 1518.6" fill="none" stroke="#0a9a0a" stroke-width="4" stroke-linejoin="round"/>
<rect x="431.8" y="1449" width="18" height="73" fill="#dedede" fill-opacity="0.45"/>
<rect x="480" y="1449" width="32.1" height="73" fill="#dedede" fill-opacity="0.45"/>
<path d="M440.6 1450V1522" stroke="#3a3a3a" stroke-width="1.2" stroke-dasharray="3.6 2.3" fill="none"/>
<path d="M495.7 1450V1522" stroke="#3a3a3a" stroke-width="1.2" stroke-dasharray="1.5 1.5" fill="none"/>
</g>
<rect x="274.6" y="1449" width="683" height="73" fill="none" stroke="#111" stroke-width="1.9"/>
<path d="M267.3 1449H274.6" stroke="#111" stroke-width="1.9"/>
<text x="218.7" y="1456.4" font-size="20.8" textLength="41.2" lengthAdjust="spacingAndGlyphs">0.04</text>
<path d="M267.3 1519H274.6" stroke="#111" stroke-width="1.9"/>
<text x="218.7" y="1526.4" font-size="20.8" textLength="41.2" lengthAdjust="spacingAndGlyphs">0.00</text>
<text transform="translate(886.01 1469.00) scale(0.9863 1)" font-family="'Liberation Sans','DejaVu Sans',sans-serif" font-weight="normal" font-style="normal" font-size="21.52" style="fill:#000">18 dpe</text>
<clipPath id="pC4"><rect x="274.6" y="1536" width="683" height="73"/></clipPath>
<g clip-path="url(#pC4)">
<rect x="474" y="1536" width="20.1" height="73" fill="#dedede"/>
<rect x="547.2" y="1536" width="35.8" height="73" fill="#dedede"/>
<path d="M421.4 1603.7L422.6 1602.4L424.5 1602.7L425.8 1604.7L444 1607.2L470.4 1606.8L480.5 1606.2L482.4 1602.4L483.3 1596.2L484.5 1599.9L486.8 1599.3L489.3 1598.7L491.8 1599.9L494.3 1599.3L495.6 1597.4L496.9 1603.7L498.7 1605.6L506.9 1605.6L513.2 1605L518.2 1604.3L522 1605L524.5 1603.7L527 1605.6L529.6 1605.6L532.1 1603.7L534.6 1603.1L536.5 1601.8L538.4 1605L540.2 1603.7L541.5 1598.7L542.8 1594.3L544.6 1592.4L545.9 1594.3L547.8 1598.7L550.9 1600.5L554.7 1601.2L558.5 1602.4L561.6 1603.7L563.5 1594.9L566 1593.6L568.5 1597.4L571.1 1599.9L573.6 1598.7L576.1 1599.9L579.2 1599.3L581.1 1589.9L583 1587.3L584.3 1584.8L585.5 1574.8L585 1573.5L586.9 1566.6L588.8 1571L590.7 1569.1L592.6 1574.8L595.1 1582.3L596.4 1571L597.6 1578.5L598.9 1569.7L600.1 1581.1L601.4 1571L602.6 1583.6L604.1 1572.2L605.8 1579.8L607.7 1584.8L609.6 1591.1L611.5 1599.9L613.3 1602.4L615.2 1602.4L617.7 1598.7L619.6 1591.1L620.9 1582.9L622.8 1589.9L624.6 1588.6L625.9 1578.5L627.2 1572.2L629.1 1574.8L630.3 1581.1L631.8 1571L633.5 1576L634.1 1567.8L635.4 1582.3L637.2 1579.8L639.1 1583.6L641 1587.3L642.9 1596.8L644.8 1584.8L646.7 1584.2L648.5 1589.9L650.4 1586.1L652.3 1588L653.6 1578.5L654.5 1593.6L656.1 1598.7L658 1600.9L659.9 1598.7L661.8 1593.6L663.6 1591.1L666.2 1588.6L668 1596.2L669.9 1591.1L671.8 1588.6L673.7 1596.2L676.2 1598L678.1 1593.6L679.4 1584.8L680.6 1582.3L681.9 1572.2L683.1 1581.1L684.4 1569.1L685.9 1579.8L687.5 1569.1L688.8 1582.3L690.1 1586.1L692 1575.4L693.8 1591.8L695.1 1579.8L696.4 1587.3L697.6 1576L698.9 1586.1L700.1 1582.3L702 1579.5L703.9 1584.8L705.8 1594.9L707.7 1598.7L709.6 1598.7L711.5 1591.1L713.3 1596.2L715.2 1584.8L716.5 1596.2L718.4 1583.6L720.2 1588.6L721.5 1583.6L723.4 1593.6L725.3 1597.4L727.2 1593.6L729.1 1584.8L731.6 1580.4L733.5 1588.6L736 1581.7L737.2 1591.1L739.8 1592.4L741.6 1596.8L743.5 1596.2L745.4 1587.3L747 1583.6L748.5 1588L750.4 1597.4L752.3 1601.2L754.8 1599.9L757.4 1594.9L759.9 1591.1L761.8 1593.6L763.6 1588L766.2 1589.9L768.7 1589.9L771.2 1597.4L773.7 1598.7L776.2 1601.8L778.5 1603.7L779 1603.7L780.2 1589.9L782.1 1594.9L784 1591.1L785.9 1587.3L787.2 1593.6L788.4 1587.3L789.7 1583.6L790.9 1594.9L792.8 1602.4L794.7 1604.3L797.9 1602.4L800.4 1603.7L802.9 1602.4L805.4 1604.3L807.3 1606.2L809.2 1602.4L810.7 1593.6L812.3 1597.4L814.2 1596.2L816.1 1598.7L817.4 1584.8L818.6 1594.9L820.2 1586.1L821.8 1594.9L823.6 1594.9L825.5 1599.9L826.8 1594.9L828.7 1587.3L829.9 1585.5L831.2 1592.4L832.5 1602.4L834.3 1607.2L836.9 1605L838.1 1597.4L839.6 1593.6L841.3 1599.9L843.1 1607.2L844.6 1599.9L845.9 1598L847.5 1600.5L849.4 1602.4L850.7 1607.2" fill="none" stroke="#6c6c6c" stroke-width="1.9" stroke-linejoin="round"/>
<path d="M345 1606.8C354.2 1606.7 384.5 1606.8 400 1606.5C415.5 1606.1 425.2 1605.3 437.7 1604.7C450.3 1604.1 462.9 1603.4 475.5 1602.7C488 1602 500.6 1601.1 513.2 1600.3C525.8 1599.5 540.5 1598.7 550.9 1598C561.4 1597.4 567.1 1597 576.1 1596.4C585.1 1595.8 596.1 1595 605.2 1594.3C614.2 1593.5 621.9 1592.8 630.3 1592.1C638.7 1591.5 647.1 1591 655.5 1590.5C663.9 1590 673.3 1589.5 680.6 1589.2C688 1588.9 693.2 1588.7 699.5 1588.6C705.8 1588.5 712.1 1588.6 718.4 1588.9C724.6 1589.1 731.5 1589.3 737.2 1589.9C742.9 1590.4 747.9 1591.5 752.6 1592.1C757.2 1592.8 761 1593.2 765.2 1593.9C769.4 1594.6 773.5 1595.4 777.7 1596.2C781.9 1596.9 786.1 1597.7 790.3 1598.4C794.5 1599.2 798.7 1599.9 802.9 1600.5C807.1 1601.2 811.3 1601.8 815.5 1602.4C819.7 1603.1 823.9 1603.8 828 1604.3C832.2 1604.9 836.4 1605.2 840.6 1605.6C844.8 1605.9 849 1606.2 853.2 1606.5C857.4 1606.7 861.6 1607 865.8 1607.1C870 1607.2 872.6 1607.2 878.4 1607.2C884.1 1607.2 896.7 1607.2 900.4 1607.2" fill="none" stroke="#0a9a0a" stroke-width="4" stroke-linejoin="round"/>
<rect x="474" y="1536" width="20.1" height="73" fill="#dedede" fill-opacity="0.45"/>
<rect x="547.2" y="1536" width="35.8" height="73" fill="#dedede" fill-opacity="0.45"/>
<path d="M483.6 1537V1609" stroke="#3a3a3a" stroke-width="1.2" stroke-dasharray="3.6 2.3" fill="none"/>
<path d="M564.5 1537V1609" stroke="#3a3a3a" stroke-width="1.2" stroke-dasharray="1.5 1.5" fill="none"/>
</g>
<rect x="274.6" y="1536" width="683" height="73" fill="none" stroke="#111" stroke-width="1.9"/>
<path d="M267.3 1536H274.6" stroke="#111" stroke-width="1.9"/>
<text x="218.7" y="1543.4" font-size="20.8" textLength="41.2" lengthAdjust="spacingAndGlyphs">0.04</text>
<path d="M267.3 1607.6H274.6" stroke="#111" stroke-width="1.9"/>
<text x="218.7" y="1615" font-size="20.8" textLength="41.2" lengthAdjust="spacingAndGlyphs">0.00</text>
<text transform="translate(885.73 1553.40) scale(0.9905 1)" font-family="'Liberation Sans','DejaVu Sans',sans-serif" font-weight="normal" font-style="normal" font-size="21.52" style="fill:#000">24 dpe</text>
<path d="M382.2 1188.6V1609" stroke="#222" stroke-width="1.4" stroke-dasharray="6 5" fill="none"/>
<path d="M293 1609V1616.3" stroke="#111" stroke-width="1.9"/>
<text x="292" y="1637.8" font-size="18.6" text-anchor="middle">-1250</text>
<path d="M382.2 1609V1616.3" stroke="#111" stroke-width="1.9"/>
<text x="383.4" y="1637.8" font-size="18.6" text-anchor="middle">0</text>
<path d="M472.1 1609V1616.3" stroke="#111" stroke-width="1.9"/>
<text x="474.3" y="1637.8" font-size="18.6" text-anchor="middle">1250</text>
<path d="M562 1609V1616.3" stroke="#111" stroke-width="1.9"/>
<text x="564.2" y="1637.8" font-size="18.6" text-anchor="middle">2500</text>
<path d="M651.9 1609V1616.3" stroke="#111" stroke-width="1.9"/>
<text x="654.1" y="1637.8" font-size="18.6" text-anchor="middle">3750</text>
<path d="M741.8 1609V1616.3" stroke="#111" stroke-width="1.9"/>
<text x="744" y="1637.8" font-size="18.6" text-anchor="middle">5000</text>
<path d="M831.7 1609V1616.3" stroke="#111" stroke-width="1.9"/>
<text x="833.9" y="1637.8" font-size="18.6" text-anchor="middle">6250</text>
<path d="M921.6 1609V1616.3" stroke="#111" stroke-width="1.9"/>
<text x="923.8" y="1637.8" font-size="18.6" text-anchor="middle">7500</text>
<rect x="725.1" y="1193.6" width="113.8" height="35.3" rx="0.8" fill="#fff" stroke="#8e8e8e" stroke-width="1.4"/>
<path d="M729.1 1205.3H748.7" stroke="#6c6c6c" stroke-width="1.7"/>
<path d="M729.1 1218.7H748.7" stroke="#0f9d3a" stroke-width="3.6"/>
<text class="lg" stroke="#000" stroke-width="0.45" x="751.9" y="1208" font-size="11" textLength="85.2" lengthAdjust="spacingAndGlyphs">Experimental</text>
<text class="lg" stroke="#000" stroke-width="0.45" x="751.9" y="1222.8" font-size="11" textLength="39" lengthAdjust="spacingAndGlyphs">Model</text>
<clipPath id="pD0"><rect x="277.6" y="1828" width="683.2" height="72.6"/></clipPath>
<g clip-path="url(#pD0)">
<path d="M330.1 1897L375.4 1897L376.9 1893.4L377.9 1890.4L379.4 1893.4L380.4 1886.4L381.6 1882.4L382.6 1888.4L383.6 1884.4L384.6 1894.4L385.9 1897.5L387.4 1894.4L388.4 1886.4L389.2 1866.3L390.2 1864.8L391.2 1871.3L392.2 1867.3L393.3 1880.3L394 1884.4L394.7 1850.2L395.7 1856.2L396.5 1878.3L397.5 1844.1L398.3 1831L399.5 1830L400.5 1844.1L401.3 1869.3L402 1884.4L403 1896.5L404.5 1897.3L412.6 1897.3" fill="none" stroke="#6c6c6c" stroke-width="1.7" stroke-linejoin="round"/>
<path d="M330.1 1897L375.4 1897L376.9 1893.4L377.9 1890.4L379.4 1893.4L380.4 1886.4L381.6 1882.4L382.6 1888.4L383.6 1884.4L384.6 1894.4L385.9 1897.5L387.4 1894.4L388.4 1886.4L389.2 1866.3L390.2 1864.8L391.2 1871.3L392.2 1867.3L393.3 1880.3L394 1884.4L394.7 1850.2L395.7 1856.2L396.5 1878.3L397.5 1844.1L398.3 1831L399.5 1830L400.5 1844.1L401.3 1869.3L402 1884.4L403 1896.5L404.5 1897.3L412.6 1897.3" fill="none" stroke="#0a9a0a" stroke-width="3.8" stroke-linejoin="round" stroke-opacity="0.66"/>
</g>
<rect x="277.6" y="1828" width="683.2" height="72.6" fill="none" stroke="#111" stroke-width="1.9"/>
<path d="M270.3 1845.4H277.6" stroke="#111" stroke-width="1.9"/>
<text x="221.7" y="1852.8" font-size="20.8" textLength="41.2" lengthAdjust="spacingAndGlyphs">0.04</text>
<path d="M270.3 1897.6H277.6" stroke="#111" stroke-width="1.9"/>
<text x="221.7" y="1905" font-size="20.8" textLength="41.2" lengthAdjust="spacingAndGlyphs">0.00</text>
<text transform="translate(897.21 1847.00) scale(0.9879 1)" font-family="'Liberation Sans','DejaVu Sans',sans-serif" font-weight="normal" font-style="normal" font-size="21.52" style="fill:#000">1 dpe</text>
<clipPath id="pD1"><rect x="277.6" y="1915.6" width="683.2" height="72.8"/></clipPath>
<g clip-path="url(#pD1)">
<path d="M360.2 1985L369.3 1985L370.3 1981.4L371.5 1979.4L372.8 1982.4L374.3 1984.7L384.4 1984.7L385.4 1983.5L386.4 1984.7L391.4 1984.7L392.4 1981.4L394 1979.4L395.5 1981.4L397 1980.4L398.5 1984L400 1981.4L401.5 1982.4L403 1985L405 1983.5L406.5 1984L408.1 1985L409.1 1981.4L410.1 1980.4L411.1 1982.4L412.4 1981.4L413.1 1968.3L414.1 1967.3L415.1 1972.4L416.1 1970.4L417.1 1972.4L417.8 1965.3L418.6 1972.4L419.6 1971.4L420.6 1981.4L421.6 1974.4L422.4 1969.4L423.4 1977.4L424.4 1963.3L425.5 1972.4L426.5 1964.3L427.5 1959.3L428.5 1976.4L429.5 1972.4L430.5 1962.3L431.2 1953.3L432.5 1953.3L433.2 1964.3L433.9 1968.3L434.7 1982.4L436.2 1985L438.7 1984L440.2 1978.4L441.3 1975.4L442.3 1970.4L443.3 1974.4L444.3 1982.4L445.3 1985L451.8 1984.7L452.8 1976.4L453.8 1974.4L454.8 1978.4L455.6 1971.4L456.4 1978.4L457.1 1952.2L458.1 1942.2L458.9 1922.1L459.7 1918.5L460.4 1922.1L461.1 1937.2L462.1 1957.3L462.9 1972.4L463.9 1984L464.9 1985" fill="none" stroke="#6c6c6c" stroke-width="1.9" stroke-linejoin="round"/>
<path d="M330.1 1984.7C332.6 1984.5 340.1 1984.3 345.2 1984C350.2 1983.6 356.1 1982.9 360.2 1982.4C364.4 1981.9 367 1981.5 370.3 1980.9C373.7 1980.4 377 1979.7 380.4 1979.1C383.7 1978.5 387.1 1977.9 390.4 1977.4C393.8 1977 397.5 1976.6 400.5 1976.4C403.5 1976.2 406 1976.1 408.6 1976.2C411.1 1976.3 413.3 1976.5 415.6 1976.9C417.9 1977.3 420.1 1977.8 422.6 1978.4C425.2 1979 427.7 1979.7 430.7 1980.4C433.7 1981.2 437.4 1982.3 440.8 1982.9C444.1 1983.6 447.2 1983.9 450.8 1984.2C454.4 1984.6 460.5 1984.8 462.4 1985" fill="none" stroke="#0a9a0a" stroke-width="4" stroke-linejoin="round"/>
</g>
<rect x="277.6" y="1915.6" width="683.2" height="72.8" fill="none" stroke="#111" stroke-width="1.9"/>
<path d="M270.3 1935H277.6" stroke="#111" stroke-width="1.9"/>
<text x="221.7" y="1942.4" font-size="20.8" textLength="41.2" lengthAdjust="spacingAndGlyphs">0.04</text>
<path d="M270.3 1985.4H277.6" stroke="#111" stroke-width="1.9"/>
<text x="221.7" y="1992.8" font-size="20.8" textLength="41.2" lengthAdjust="spacingAndGlyphs">0.00</text>
<text transform="translate(894.44 1933.40) scale(0.9853 1)" font-family="'Liberation Sans','DejaVu Sans',sans-serif" font-weight="normal" font-style="normal" font-size="21.52" style="fill:#000">6 dpe</text>
<clipPath id="pD2"><rect x="277.6" y="2003" width="683.2" height="73"/></clipPath>
<g clip-path="url(#pD2)">
<rect x="389.8" y="2003" width="18.9" height="73" fill="#dedede"/>
<path d="M330.1 2071.9L335.1 2070.4L337 2068.6L338.9 2070.4L342.6 2072.3L344.5 2072.3L345.8 2062.9L347 2061.6L348.3 2056L350.2 2062.9L351.4 2055.3L352.7 2050.3L354.2 2056.6L355.9 2060.4L357.1 2056.6L359 2064.2L360.9 2061.6L362.8 2062.9L365.3 2062.3L367.2 2066.7L368.4 2070.4L370.3 2062.9L371.6 2049.1L372.8 2042.8L374.1 2039.2L375.6 2050.3L377.2 2065.4L379.1 2062.9L380.4 2055.3L382.3 2059.1L383.5 2057.9L384.8 2065.4L386.7 2066L388.6 2065.4L389.8 2071.7L391.7 2072.3L393.6 2067.9L395.5 2065.4L397.4 2068.6L399 2060.4L400.5 2065.4L402.4 2072.3L404.3 2070.4L405.5 2062.9L407.4 2061L408.7 2065.4L409.6 2072.3L418.1 2072.7L420.6 2070.4L423.1 2069.8L425 2072.7L426.9 2069.8L429.4 2072.3L433.2 2072.3L449.6 2072.7L451.4 2062.9L452.7 2050.3L453.6 2047.5L454.6 2056.6L455.6 2072.3L457.7 2071.7L459.6 2072.3L461.1 2064.8L462.8 2072.3L464.6 2066L465.9 2062.9L467.2 2031.5L468.4 2028.9L469.4 2036.5L470.3 2025.2L471.6 2006.3L472.8 2025.2L473.7 2065.4L475 2031.5L476 2034L477 2070.4L478.5 2072.7L481.6 2072.7L482.9 2050.3L484.1 2018.9L485 2012.3L486 2031.5L487 2050.3L487.9 2047.8L489.2 2065.4L490.4 2072.7L493.6 2072.7" fill="none" stroke="#6c6c6c" stroke-width="1.9" stroke-linejoin="round"/>
<path d="M330.1 2071.4C332.6 2071.3 339.5 2070.9 345.2 2070.4C350.8 2070 357.7 2069.4 364 2068.9C370.3 2068.5 376.6 2068 382.9 2067.7C389.2 2067.3 395.5 2066.9 401.8 2066.7C408.1 2066.5 414.3 2066.4 420.6 2066.4C426.9 2066.5 433.2 2066.6 439.5 2066.9C445.8 2067.3 452.1 2068 458.4 2068.6C464.6 2069.1 470.9 2069.7 477.2 2070.2C483.5 2070.7 489 2071.1 496.1 2071.4C503.2 2071.8 513.7 2072 520 2072.3C526.3 2072.6 531.7 2073.1 534 2073.2" fill="none" stroke="#0a9a0a" stroke-width="4" stroke-linejoin="round"/>
<rect x="389.8" y="2003" width="18.9" height="73" fill="#dedede" fill-opacity="0.45"/>
<path d="M398.9 2004V2076" stroke="#3a3a3a" stroke-width="1.2" stroke-dasharray="3.6 2.3" fill="none"/>
</g>
<rect x="277.6" y="2003" width="683.2" height="73" fill="none" stroke="#111" stroke-width="1.9"/>
<path d="M270.3 2022.4H277.6" stroke="#111" stroke-width="1.9"/>
<text x="221.7" y="2029.8" font-size="20.8" textLength="41.2" lengthAdjust="spacingAndGlyphs">0.04</text>
<path d="M270.3 2073H277.6" stroke="#111" stroke-width="1.9"/>
<text x="221.7" y="2080.4" font-size="20.8" textLength="41.2" lengthAdjust="spacingAndGlyphs">0.00</text>
<text transform="translate(889.42 2021.60) scale(0.9800 1)" font-family="'Liberation Sans','DejaVu Sans',sans-serif" font-weight="normal" font-style="normal" font-size="21.52" style="fill:#000">12 dpe</text>
<clipPath id="pD3"><rect x="277.6" y="2090.6" width="683.2" height="73.4"/></clipPath>
<g clip-path="url(#pD3)">
<rect x="430.1" y="2090.6" width="23.6" height="73.4" fill="#dedede"/>
<rect x="480" y="2090.6" width="37.8" height="73.4" fill="#dedede"/>
<path d="M330.1 2159.7L336.4 2155.9L338.2 2159.1L345.2 2159.7L347.7 2158.4L348.7 2150.9L350.2 2149.6L351.7 2145.9L353.3 2144.6L354.6 2139.3L355.9 2149.6L357.7 2148.4L359.6 2143.3L361.5 2144.6L363.4 2144.6L364.6 2149.6L366.5 2154L368.4 2153.4L369.7 2152.2L371.6 2157.2L375.4 2159.1L377.2 2155.9L378.9 2147.8L380.4 2153.4L381.6 2157.8L384.1 2156.6L385.7 2153.4L387.3 2157.8L391.7 2159.1L394.2 2154.7L396.7 2152.8L398.6 2146.5L399.9 2152.2L401.5 2150.3L403 2155.9L405.5 2158.4L408.1 2159.1L411.8 2159.7L415.6 2160.3L419.4 2159.1L421.9 2159.7L425.4 2154L427.6 2158.4L430.7 2154.7L433.2 2158.4L437 2160.3L440.8 2159.7L445.8 2158.4L447 2149L448.6 2152.8L450.8 2154.7L453.3 2158.4L457.1 2160.3L462.1 2159.1L465.9 2160.7L470.9 2159.9L477.2 2159.4L483.5 2160.3L496.1 2159.9L504.9 2155.3L506.2 2160.3L510 2160.3L522 2159.9L523.2 2148.4L524.1 2142.7L525.1 2150.9L526.4 2159.1L530.1 2160.3L551.5 2160.3L552.8 2153.4L554 2143.3L555 2137.7L555.9 2149.6L556.8 2147.1L557.8 2158.4L559.7 2155.9L560.9 2152.2L562.2 2147.1L563.5 2154.7L564.7 2157.2L566.6 2155.9L568.5 2155.3L570.4 2158.4L572.6 2157.8L573.5 2152.2L574.8 2150.3L575.7 2146.5L577.3 2152.2L578.5 2157.8L581.1 2157.8L583 2157.2L584.8 2151.5L585.7 2140.8L586.5 2136.1L587.7 2143.3L588.6 2142.1L589.5 2150.9L591.1 2145.2L592.4 2152.2L594.3 2155.9L595.5 2160.3L600.6 2160.3L601.8 2153.4L603.7 2151.5L605 2153.4L606.9 2156.6L608.1 2160.3L613.8 2160.3L615 2154.7L616.9 2154L618.2 2157.2L620.1 2149.6L621.3 2143.3L622.6 2135.8L624.2 2130.8L625.7 2132L627 2138.3L628.2 2153.4L629.5 2152.8L631 2158.4L632.6 2160.7L638.9 2160.3L640.2 2156.6L642.1 2156.6L643.1 2149.6L644.3 2154.7L645.6 2150.3L646.9 2155.9L647.7 2152.2L649 2160.3L651.5 2158.4L652.4 2138.3L653.4 2129.5L654.4 2127.6L655.9 2145.2L657.4 2131.4L659.1 2137.1L660.3 2145.9L661.6 2159.7L663.5 2159.7L666 2160.3L669.8 2160.3L671 2125.7L672 2096.8L672.9 2095.6L673.8 2138.3L674.5 2140.8L675.8 2118.2L677 2100.6L678.5 2093.7L679.6 2106.9L680.4 2135.8L681.7 2138.3L683 2158.4L684.2 2160.3L706.2 2160.3" fill="none" stroke="#6c6c6c" stroke-width="1.9" stroke-linejoin="round"/>
<path d="M330.1 2158.4C334.7 2158.3 348.9 2157.7 357.7 2157.4C366.5 2157.2 374.5 2157.1 382.9 2156.9C391.3 2156.8 399.7 2156.6 408.1 2156.6C416.4 2156.5 424.8 2156.4 433.2 2156.4C441.6 2156.4 450 2156.5 458.4 2156.6C466.7 2156.6 474.9 2156.8 483.5 2156.9C492.1 2157 501.4 2156.9 510 2157.2C518.6 2157.4 526.8 2158.1 535.2 2158.4C543.5 2158.8 551.9 2159.2 560.3 2159.4C568.7 2159.7 577.1 2159.8 585.5 2159.9C593.9 2160.1 602.2 2160.1 610.6 2160.2C619 2160.3 629 2160.3 635.8 2160.3C642.6 2160.4 648.9 2160.3 651.5 2160.3" fill="none" stroke="#0a9a0a" stroke-width="4" stroke-linejoin="round"/>
<rect x="430.1" y="2090.6" width="23.6" height="73.4" fill="#dedede" fill-opacity="0.45"/>
<rect x="480" y="2090.6" width="37.8" height="73.4" fill="#dedede" fill-opacity="0.45"/>
<path d="M441.1 2091.6V2164" stroke="#3a3a3a" stroke-width="1.2" stroke-dasharray="3.6 2.3" fill="none"/>
<path d="M498.4 2091.6V2164" stroke="#3a3a3a" stroke-width="1.2" stroke-dasharray="1.5 1.5" fill="none"/>
</g>
<rect x="277.6" y="2090.6" width="683.2" height="73.4" fill="none" stroke="#111" stroke-width="1.9"/>
<path d="M270.3 2109.4H277.6" stroke="#111" stroke-width="1.9"/>
<text x="221.7" y="2116.8" font-size="20.8" textLength="41.2" lengthAdjust="spacingAndGlyphs">0.04</text>
<path d="M270.3 2160.4H277.6" stroke="#111" stroke-width="1.9"/>
<text x="221.7" y="2167.8" font-size="20.8" textLength="41.2" lengthAdjust="spacingAndGlyphs">0.00</text>
<text transform="translate(886.80 2109.00) scale(0.9895 1)" font-family="'Liberation Sans','DejaVu Sans',sans-serif" font-weight="normal" font-style="normal" font-size="21.52" style="fill:#000">18 dpe</text>
<clipPath id="pD4"><rect x="277.6" y="2178.4" width="683.2" height="73"/></clipPath>
<g clip-path="url(#pD4)">
<rect x="477.9" y="2178.4" width="27.3" height="73" fill="#dedede"/>
<rect x="561.3" y="2178.4" width="40.5" height="73" fill="#dedede"/>
<path d="M331.9 2218.8L332.6 2232.6L333.8 2238.9L335.1 2243.9L337 2238.9L338.2 2232.6L339.5 2242.7L340.8 2233.9L342 2243.9L344.5 2241.4L346 2233.9L347.4 2242.7L349.6 2238.9L351.1 2235.1L352.4 2245.2L355.2 2242L357.1 2247.7L361.5 2248.3L364 2241.4L365.9 2247.7L369.7 2243.9L371.6 2248.3L375.4 2241.4L377.2 2243.3L378.5 2238.9L380.1 2235.8L381.6 2246.4L384.1 2247.7L386.7 2238.9L387.9 2236.4L389.2 2233.2L390.4 2240.2L392.3 2247.7L394.2 2235.1L395.2 2223.8L395.9 2216.2L397 2231.3L398 2223.8L399.2 2235.1L400.8 2230.1L402.4 2242.7L404.3 2247.7L406.8 2248.3L408.7 2238.9L410.3 2230.7L411.6 2243.9L413.1 2238.9L414.6 2230.1L416.2 2222.5L417.1 2226.3L418.1 2212.5L419.4 2231.3L420.6 2222.5L421.9 2232.6L423.4 2236.4L425 2246.4L426.9 2248.3L428.2 2240.8L430.1 2243.9L431.9 2247.7L434.5 2248.3L435.7 2237.6L437 2236.4L438.2 2246.4L440.8 2249L443.9 2247.7L444.8 2232.6L446.4 2238.9L448.1 2237.6L449.6 2245.2L451.1 2243.9L452.1 2234.5L453.6 2247.7L455.6 2238.3L457.1 2246.4L460.2 2247.1L462.1 2241.4L464.6 2242L466.5 2236.4L467.8 2233.2L469.7 2241.4L471.6 2242.7L473.5 2225.1L474.7 2221.3L475.7 2210.6L476.6 2226.3L478.2 2221.3L479.8 2241.4L481.6 2247.7L483.5 2246.4L485 2236.4L486.3 2230.1L487.6 2241.4L488.8 2231.3L490.4 2246.4L493 2248.3L494.8 2242.7L496.4 2233.9L497.6 2231.3L499.2 2241.4L500.5 2235.1L501.8 2243.9L503 2237.6L504.9 2247.7L506.8 2237.6L508.1 2236.4L509.3 2245.8L510 2246.4L512.5 2248.3L515 2241.4L517.5 2240.8L519.4 2247.7L521.3 2238.9L522.6 2231.3L523.8 2241.4L525.7 2247.7L530.1 2249L532.6 2242.7L535.2 2240.2L536.7 2246.4L540.2 2249L544 2247.7L545.2 2232.6L547.1 2225.7L548.4 2233.9L549.6 2233.2L550.9 2248.3L560.3 2249L564.1 2247.7L565.6 2236.4L566.9 2230.1L568.1 2214.7L569.1 2236.4L570.4 2248.3L575.4 2249L578.5 2243.9L580.4 2249L588 2249L598 2248.3L602.5 2247.7L603.3 2235.1L605 2232.6L606.2 2237.6L607.1 2247.7L609.4 2246.4L610.2 2228.8L611.6 2226.3L612.9 2228.8L613.8 2246.4L615.7 2247.7L616.9 2240.8L618.4 2247.7L625.7 2248.3L627 2241.4L628.2 2234.5L629.5 2242.7L630.8 2235.1L632 2243.9L633.5 2234.5L634.8 2242.7L636.4 2230.7L637.7 2242.7L638.9 2248.3L641.5 2243.9L643.3 2241.4L644.6 2240.2L646.5 2242.7L648.4 2241.4L649.9 2247.7L660.9 2248.3L663.7 2245.2L666 2248.3L673.5 2247.7L674.8 2243.9L676.7 2246.4L677.9 2238.9L679.2 2235.8L680.4 2242.7L681.7 2240.2L683.6 2240.2L684.8 2246.4L688.6 2247.7L689.9 2244.6L691.8 2247.7L694.9 2245.8L697.4 2248.3L708.7 2248.3L709.7 2246.4L710.6 2238.9L712 2234.1L713.1 2238.9L714.3 2240.2L715.4 2246.4L725.4 2248.3L727.3 2245.8L728.5 2248.3L734.2 2247.7L735.5 2244.6L736.7 2248.3L754.3 2248.3L755.6 2245.8L756.9 2248.3L760 2248.3L761.6 2245.8L762.9 2248.3L774.5 2248.3L775.5 2244.6L776.5 2248.3L800.9 2248.3L801.9 2241.4L802.8 2239.5L803.8 2243.9L804.6 2248.3" fill="none" stroke="#6c6c6c" stroke-width="1.9" stroke-linejoin="round"/>
<path d="M330.1 2246.4C338.9 2246.3 365.7 2245.8 382.9 2245.6C400.1 2245.3 417.5 2245.1 433.2 2244.9C448.9 2244.8 464.4 2244.7 477.2 2244.7C490 2244.7 496.2 2244.8 510 2244.9C523.8 2245.1 543.5 2245.3 560.3 2245.6C577.1 2245.8 593.9 2246.1 610.6 2246.4C627.4 2246.8 652.7 2247.2 660.9 2247.4C669.2 2247.7 645.5 2247.5 660 2247.7C674.5 2247.9 719.2 2248.5 748 2248.7C776.9 2248.9 818.8 2248.9 833 2249" fill="none" stroke="#0a9a0a" stroke-width="4" stroke-linejoin="round"/>
<rect x="477.9" y="2178.4" width="27.3" height="73" fill="#dedede" fill-opacity="0.45"/>
<rect x="561.3" y="2178.4" width="40.5" height="73" fill="#dedede" fill-opacity="0.45"/>
<path d="M491.1 2179.4V2251.4" stroke="#3a3a3a" stroke-width="1.2" stroke-dasharray="3.6 2.3" fill="none"/>
<path d="M581.1 2179.4V2251.4" stroke="#3a3a3a" stroke-width="1.2" stroke-dasharray="1.5 1.5" fill="none"/>
</g>
<rect x="277.6" y="2178.4" width="683.2" height="73" fill="none" stroke="#111" stroke-width="1.9"/>
<path d="M270.3 2178.4H277.6" stroke="#111" stroke-width="1.9"/>
<text x="221.7" y="2185.8" font-size="20.8" textLength="41.2" lengthAdjust="spacingAndGlyphs">0.04</text>
<path d="M270.3 2249.4H277.6" stroke="#111" stroke-width="1.9"/>
<text x="221.7" y="2256.8" font-size="20.8" textLength="41.2" lengthAdjust="spacingAndGlyphs">0.00</text>
<text transform="translate(887.34 2196.60) scale(0.9811 1)" font-family="'Liberation Sans','DejaVu Sans',sans-serif" font-weight="normal" font-style="normal" font-size="21.52" style="fill:#000">24 dpe</text>
<path d="M385.2 1831V2251.4" stroke="#222" stroke-width="1.4" stroke-dasharray="6 5" fill="none"/>
<path d="M296 2251.4V2258.7" stroke="#111" stroke-width="1.9"/>
<text x="295" y="2278.4" font-size="18.6" text-anchor="middle">-1250</text>
<path d="M385.2 2251.4V2258.7" stroke="#111" stroke-width="1.9"/>
<text x="386.4" y="2278.4" font-size="18.6" text-anchor="middle">0</text>
<path d="M475.1 2251.4V2258.7" stroke="#111" stroke-width="1.9"/>
<text x="477.3" y="2278.4" font-size="18.6" text-anchor="middle">1250</text>
<path d="M564.9 2251.4V2258.7" stroke="#111" stroke-width="1.9"/>
<text x="567.1" y="2278.4" font-size="18.6" text-anchor="middle">2500</text>
<path d="M654.8 2251.4V2258.7" stroke="#111" stroke-width="1.9"/>
<text x="657" y="2278.4" font-size="18.6" text-anchor="middle">3750</text>
<path d="M744.7 2251.4V2258.7" stroke="#111" stroke-width="1.9"/>
<text x="746.9" y="2278.4" font-size="18.6" text-anchor="middle">5000</text>
<path d="M834.5 2251.4V2258.7" stroke="#111" stroke-width="1.9"/>
<text x="836.7" y="2278.4" font-size="18.6" text-anchor="middle">6250</text>
<path d="M924.4 2251.4V2258.7" stroke="#111" stroke-width="1.9"/>
<text x="926.6" y="2278.4" font-size="18.6" text-anchor="middle">7500</text>
<rect x="725.1" y="1837.6" width="113.8" height="35.3" rx="0.8" fill="#fff" stroke="#8e8e8e" stroke-width="1.4"/>
<path d="M729.1 1849.3H748.7" stroke="#6c6c6c" stroke-width="1.7"/>
<path d="M729.1 1862.7H748.7" stroke="#0f9d3a" stroke-width="3.6"/>
<text class="lg" stroke="#000" stroke-width="0.45" x="751.9" y="1852" font-size="11" textLength="85.2" lengthAdjust="spacingAndGlyphs">Experimental</text>
<text class="lg" stroke="#000" stroke-width="0.45" x="751.9" y="1866.8" font-size="11" textLength="39" lengthAdjust="spacingAndGlyphs">Model</text>
<text transform="translate(6.21 435.09) scale(0.8269 1)" font-family="'Liberation Sans','DejaVu Sans',sans-serif" font-weight="normal" font-style="normal" font-size="61.98" style="fill:#000">B</text>
<text transform="translate(4.60 504.62) scale(0.9995 1)" font-family="'Liberation Sans','DejaVu Sans',sans-serif" font-weight="normal" font-style="normal" font-size="53.91" style="fill:#000">Control</text>
<text transform="translate(5.19 1050.31) scale(0.8283 1)" font-family="'Liberation Sans','DejaVu Sans',sans-serif" font-weight="normal" font-style="normal" font-size="62.89" style="fill:#000">C</text>
<text transform="translate(4.25 1132.17) scale(1.0204 1)" font-family="'Liberation Sans','DejaVu Sans',sans-serif" font-weight="normal" font-style="normal" font-size="50.45" style="fill:#000">Tig1</text>
<text transform="translate(5.53 1701.64) scale(0.9652 1)" font-family="'Liberation Sans','DejaVu Sans',sans-serif" font-weight="normal" font-style="normal" font-size="61.98" style="fill:#000">D</text>
<text transform="translate(5.68 1775.05) scale(0.9637 1)" font-family="'Liberation Sans','DejaVu Sans',sans-serif" font-weight="normal" font-style="normal" font-size="53.54" style="fill:#000">Prod1</text>
<text transform="translate(176.27 581.00) scale(1.1346 1)" font-family="'Liberation Sans','DejaVu Sans',sans-serif" font-weight="normal" font-style="normal" font-size="58.76" style="fill:#000">i</text>
<text transform="translate(157.77 1229.60) scale(1.1346 1)" font-family="'Liberation Sans','DejaVu Sans',sans-serif" font-weight="normal" font-style="normal" font-size="58.76" style="fill:#000">i</text>
<text transform="translate(153.77 1866.00) scale(1.1399 1)" font-family="'Liberation Sans','DejaVu Sans',sans-serif" font-weight="normal" font-style="normal" font-size="58.48" style="fill:#000">i</text>
<text transform="translate(999.05 585.60) scale(1.0870 1)" font-family="'Liberation Sans','DejaVu Sans',sans-serif" font-weight="normal" font-style="normal" font-size="58.76" style="fill:#000">ii</text>
<text transform="translate(1004.48 1239.90) scale(1.1152 1)" font-family="'Liberation Sans','DejaVu Sans',sans-serif" font-weight="normal" font-style="normal" font-size="59.59" style="fill:#000">ii</text>
<text transform="translate(1000.60 1875.40) scale(1.1583 1)" font-family="'Liberation Sans','DejaVu Sans',sans-serif" font-weight="normal" font-style="normal" font-size="58.48" style="fill:#000">ii</text>
<text transform="translate(186.90 840.30) rotate(-90) translate(-2.50 0.00) scale(0.9952 1)" font-family="'Liberation Sans','DejaVu Sans',sans-serif" font-weight="normal" font-style="normal" font-size="31.40" style="fill:#000">Density (a.u.)</text>
<text transform="translate(183.70 1456.70) rotate(-90) translate(-2.50 0.00) scale(0.9952 1)" font-family="'Liberation Sans','DejaVu Sans',sans-serif" font-weight="normal" font-style="normal" font-size="31.40" style="fill:#000">Density (a.u.)</text>
<text transform="translate(178.60 2087.80) rotate(-90) translate(-2.49 0.00) scale(0.9919 1)" font-family="'Liberation Sans','DejaVu Sans',sans-serif" font-weight="normal" font-style="normal" font-size="31.40" style="fill:#000">Density (a.u.)</text>
<text transform="translate(525.76 1050.90) scale(1.0130 1)" font-family="'Liberation Sans','DejaVu Sans',sans-serif" font-weight="normal" font-style="normal" font-size="31.40" style="fill:#000">PD position (µm)</text>
<text transform="translate(500.05 1693.20) scale(1.0135 1)" font-family="'Liberation Sans','DejaVu Sans',sans-serif" font-weight="normal" font-style="normal" font-size="31.40" style="fill:#000">PD position (µm)</text>
<text transform="translate(508.26 2354.20) scale(1.0104 1)" font-family="'Liberation Sans','DejaVu Sans',sans-serif" font-weight="normal" font-style="normal" font-size="31.40" style="fill:#000">PD position (µm)</text>
<defs>
<linearGradient id="cb" x1="0" y1="0" x2="0" y2="1"><stop offset="0" stop-color="#00441b"/><stop offset="0.125" stop-color="#006d2c"/><stop offset="0.25" stop-color="#238b45"/><stop offset="0.375" stop-color="#41ab5d"/><stop offset="0.5" stop-color="#74c476"/><stop offset="0.625" stop-color="#a1d99b"/><stop offset="0.75" stop-color="#c7e9c0"/><stop offset="0.875" stop-color="#e5f5e0"/><stop offset="1" stop-color="#f7fcf5"/></linearGradient>
<radialGradient id="blob"><stop offset="0.00" stop-color="#00441b"/><stop offset="0.05" stop-color="#00481d"/><stop offset="0.10" stop-color="#005221"/><stop offset="0.15" stop-color="#006428"/><stop offset="0.20" stop-color="#0b7734"/><stop offset="0.25" stop-color="#228a44"/><stop offset="0.30" stop-color="#37a055"/><stop offset="0.35" stop-color="#55b567"/><stop offset="0.40" stop-color="#79c67a"/><stop offset="0.45" stop-color="#97d493"/><stop offset="0.50" stop-color="#b0dfaa"/><stop offset="0.55" stop-color="#c5e8be"/><stop offset="0.60" stop-color="#d4eecd"/><stop offset="0.65" stop-color="#dff3da"/><stop offset="0.70" stop-color="#e7f6e2"/><stop offset="0.75" stop-color="#ecf8e8"/><stop offset="0.80" stop-color="#eff9ec"/><stop offset="0.85" stop-color="#f1faee"/><stop offset="0.90" stop-color="#f3fbf1"/><stop offset="0.95" stop-color="#f5fbf2"/><stop offset="1.00" stop-color="#f5fbf3"/></radialGradient>
</defs>
<rect x="1106.1" y="582" width="313.2" height="338.8" fill="#f7fcf5"/>
<clipPath id="h582"><rect x="1106.1" y="582" width="313.2" height="338.8"/></clipPath>
<g clip-path="url(#h582)"><ellipse cx="1177.5" cy="903.6" rx="37" ry="9.5" fill="url(#blob)"/></g>
<rect x="1106.1" y="582" width="313.2" height="338.8" fill="none" stroke="#0a0a0a" stroke-width="1.9"/>
<path d="M1262.3 920.8V929.3" stroke="#0a0a0a" stroke-width="1.8"/>
<text x="1234.4" y="957.1" font-size="23.4" textLength="51.2" lengthAdjust="spacingAndGlyphs">1250</text>
<path d="M1419.3 920.8V929.3" stroke="#0a0a0a" stroke-width="1.8"/>
<text x="1391.2" y="957.1" font-size="23.4" textLength="51.2" lengthAdjust="spacingAndGlyphs">1750</text>
<path d="M1097.6 582H1106.1" stroke="#0a0a0a" stroke-width="1.8"/>
<text x="1059.8" y="591.3" font-size="23.4" textLength="25.3" lengthAdjust="spacingAndGlyphs">25</text>
<path d="M1097.6 785.2H1106.1" stroke="#0a0a0a" stroke-width="1.8"/>
<text x="1059.8" y="794.5" font-size="23.4" textLength="25.3" lengthAdjust="spacingAndGlyphs">10</text>
<path d="M1097.6 920.6H1106.1" stroke="#0a0a0a" stroke-width="1.8"/>
<text x="1072.7" y="929.9" font-size="23.4" textLength="12.4" lengthAdjust="spacingAndGlyphs">0</text>
<rect x="1457.2" y="605" width="14" height="303.6" fill="url(#cb)" stroke="#0a0a0a" stroke-width="1.5"/>
<path d="M1471.2 605H1478.2M1471.2 908.6H1478.2" stroke="#0a0a0a" stroke-width="1.5"/>
<text x="1484.5" y="613.1" font-size="23.4" textLength="38.5" lengthAdjust="spacingAndGlyphs">Max</text>
<text x="1484.5" y="916.7" font-size="23.4" textLength="32.5" lengthAdjust="spacingAndGlyphs">Min</text>
<rect x="1185.7" y="961.5" width="150.9" height="50.7" fill="#fbfbfb"/>
<text transform="translate(1159.49 1002.30) scale(1.0115 1)" font-family="'Liberation Sans','DejaVu Sans',sans-serif" font-weight="normal" font-style="normal" font-size="32.20" style="fill:#000">D (µm²/day)</text>
<rect x="1001.8" y="671.8" width="46.9" height="150.1" fill="#fbfbfb"/>
<text transform="translate(1038.30 842.70) rotate(-90) translate(-0.16 0.00) scale(1.0175 1)" font-family="'Liberation Sans','DejaVu Sans',sans-serif" font-weight="normal" font-style="normal" font-size="32.20" style="fill:#000">v<tspan dy="0.2em" font-size="0.76em">p</tspan><tspan dy="-0.263em"> (µm/day)</tspan></text>
<rect x="1102.6" y="1233.1" width="313.1" height="339.1" fill="#f7fcf5"/>
<clipPath id="h1233"><rect x="1102.6" y="1233.1" width="313.1" height="339.1"/></clipPath>
<g clip-path="url(#h1233)"><ellipse cx="1373.4" cy="1263.2" rx="58" ry="23.5" fill="url(#blob)" transform="rotate(3 1373.4 1263.2)"/></g>
<rect x="1102.6" y="1233.1" width="313.1" height="339.1" fill="none" stroke="#0a0a0a" stroke-width="1.9"/>
<path d="M1258.8 1572.2V1580.7" stroke="#0a0a0a" stroke-width="1.8"/>
<text x="1230.9" y="1608.5" font-size="23.4" textLength="51.2" lengthAdjust="spacingAndGlyphs">1250</text>
<path d="M1415.7 1572.2V1580.7" stroke="#0a0a0a" stroke-width="1.8"/>
<text x="1387.6" y="1608.5" font-size="23.4" textLength="51.2" lengthAdjust="spacingAndGlyphs">1750</text>
<path d="M1094.1 1233.1H1102.6" stroke="#0a0a0a" stroke-width="1.8"/>
<text x="1058.5" y="1242.4" font-size="23.4" textLength="25.3" lengthAdjust="spacingAndGlyphs">25</text>
<path d="M1094.1 1436.8H1102.6" stroke="#0a0a0a" stroke-width="1.8"/>
<text x="1058.5" y="1446.1" font-size="23.4" textLength="25.3" lengthAdjust="spacingAndGlyphs">10</text>
<path d="M1094.1 1572.2H1102.6" stroke="#0a0a0a" stroke-width="1.8"/>
<text x="1071.4" y="1581.5" font-size="23.4" textLength="12.4" lengthAdjust="spacingAndGlyphs">0</text>
<rect x="1458" y="1253" width="14" height="303.2" fill="url(#cb)" stroke="#0a0a0a" stroke-width="1.5"/>
<path d="M1472 1253H1479M1472 1556.2H1479" stroke="#0a0a0a" stroke-width="1.5"/>
<text x="1485.3" y="1261.1" font-size="23.4" textLength="38.5" lengthAdjust="spacingAndGlyphs">Max</text>
<text x="1485.3" y="1564.3" font-size="23.4" textLength="32.5" lengthAdjust="spacingAndGlyphs">Min</text>
<rect x="1179.7" y="1617" width="151.7" height="52" fill="#fbfbfb"/>
<text transform="translate(1168.30 1653.20) scale(1.0079 1)" font-family="'Liberation Sans','DejaVu Sans',sans-serif" font-weight="normal" font-style="normal" font-size="32.20" style="fill:#000">D (µm²/day)</text>
<rect x="1001.4" y="1327.5" width="42.6" height="151.1" fill="#fbfbfb"/>
<text transform="translate(1042.80 1499.90) rotate(-90) translate(-0.16 0.00) scale(1.0151 1)" font-family="'Liberation Sans','DejaVu Sans',sans-serif" font-weight="normal" font-style="normal" font-size="32.20" style="fill:#000">v<tspan dy="0.2em" font-size="0.76em">p</tspan><tspan dy="-0.263em"> (µm/day)</tspan></text>
<rect x="1103" y="1855.1" width="327.9" height="349.1" fill="#f7fcf5"/>
<clipPath id="h1855"><rect x="1103" y="1855.1" width="327.9" height="349.1"/></clipPath>
<g clip-path="url(#h1855)"><ellipse cx="1354.9" cy="1927.5" rx="45" ry="54" fill="url(#blob)" transform="rotate(-12 1354.9 1927.5)"/></g>
<rect x="1103" y="1855.1" width="327.9" height="349.1" fill="none" stroke="#0a0a0a" stroke-width="1.9"/>
<path d="M1156.9 2204.2V2212.7" stroke="#0a0a0a" stroke-width="1.8"/>
<text x="1131.6" y="2240.5" font-size="23.4" textLength="51.2" lengthAdjust="spacingAndGlyphs">1500</text>
<path d="M1373.4 2204.2V2212.7" stroke="#0a0a0a" stroke-width="1.8"/>
<text x="1348.1" y="2240.5" font-size="23.4" textLength="51.2" lengthAdjust="spacingAndGlyphs">7500</text>
<path d="M1094.5 1909H1103" stroke="#0a0a0a" stroke-width="1.8"/>
<text x="1056" y="1918.3" font-size="23.4" textLength="25.3" lengthAdjust="spacingAndGlyphs">50</text>
<path d="M1094.5 2056.4H1103" stroke="#0a0a0a" stroke-width="1.8"/>
<text x="1056" y="2065.7" font-size="23.4" textLength="25.3" lengthAdjust="spacingAndGlyphs">25</text>
<path d="M1094.5 2204.2H1103" stroke="#0a0a0a" stroke-width="1.8"/>
<text x="1068.9" y="2213.5" font-size="23.4" textLength="12.4" lengthAdjust="spacingAndGlyphs">0</text>
<rect x="1462.8" y="1890.7" width="14" height="303.1" fill="url(#cb)" stroke="#0a0a0a" stroke-width="1.5"/>
<path d="M1476.8 1890.7H1483.8M1476.8 2193.8H1483.8" stroke="#0a0a0a" stroke-width="1.5"/>
<text x="1490.1" y="1898.8" font-size="23.4" textLength="38.5" lengthAdjust="spacingAndGlyphs">Max</text>
<text x="1490.1" y="2201.9" font-size="23.4" textLength="32.5" lengthAdjust="spacingAndGlyphs">Min</text>
<rect x="1185.7" y="2241.3" width="151.7" height="53.9" fill="#fbfbfb"/>
<text transform="translate(1176.30 2286.40) scale(1.0079 1)" font-family="'Liberation Sans','DejaVu Sans',sans-serif" font-weight="normal" font-style="normal" font-size="32.20" style="fill:#000">D (µm²/day)</text>
<rect x="990.4" y="1956.1" width="50.2" height="151" fill="#fbfbfb"/>
<text transform="translate(1049.60 2136.00) rotate(-90) translate(-0.16 0.00) scale(1.0139 1)" font-family="'Liberation Sans','DejaVu Sans',sans-serif" font-weight="normal" font-style="normal" font-size="32.20" style="fill:#000">v<tspan dy="0.2em" font-size="0.76em">p</tspan><tspan dy="-0.263em"> (µm/day)</tspan></text>
</svg>
</body></html>
